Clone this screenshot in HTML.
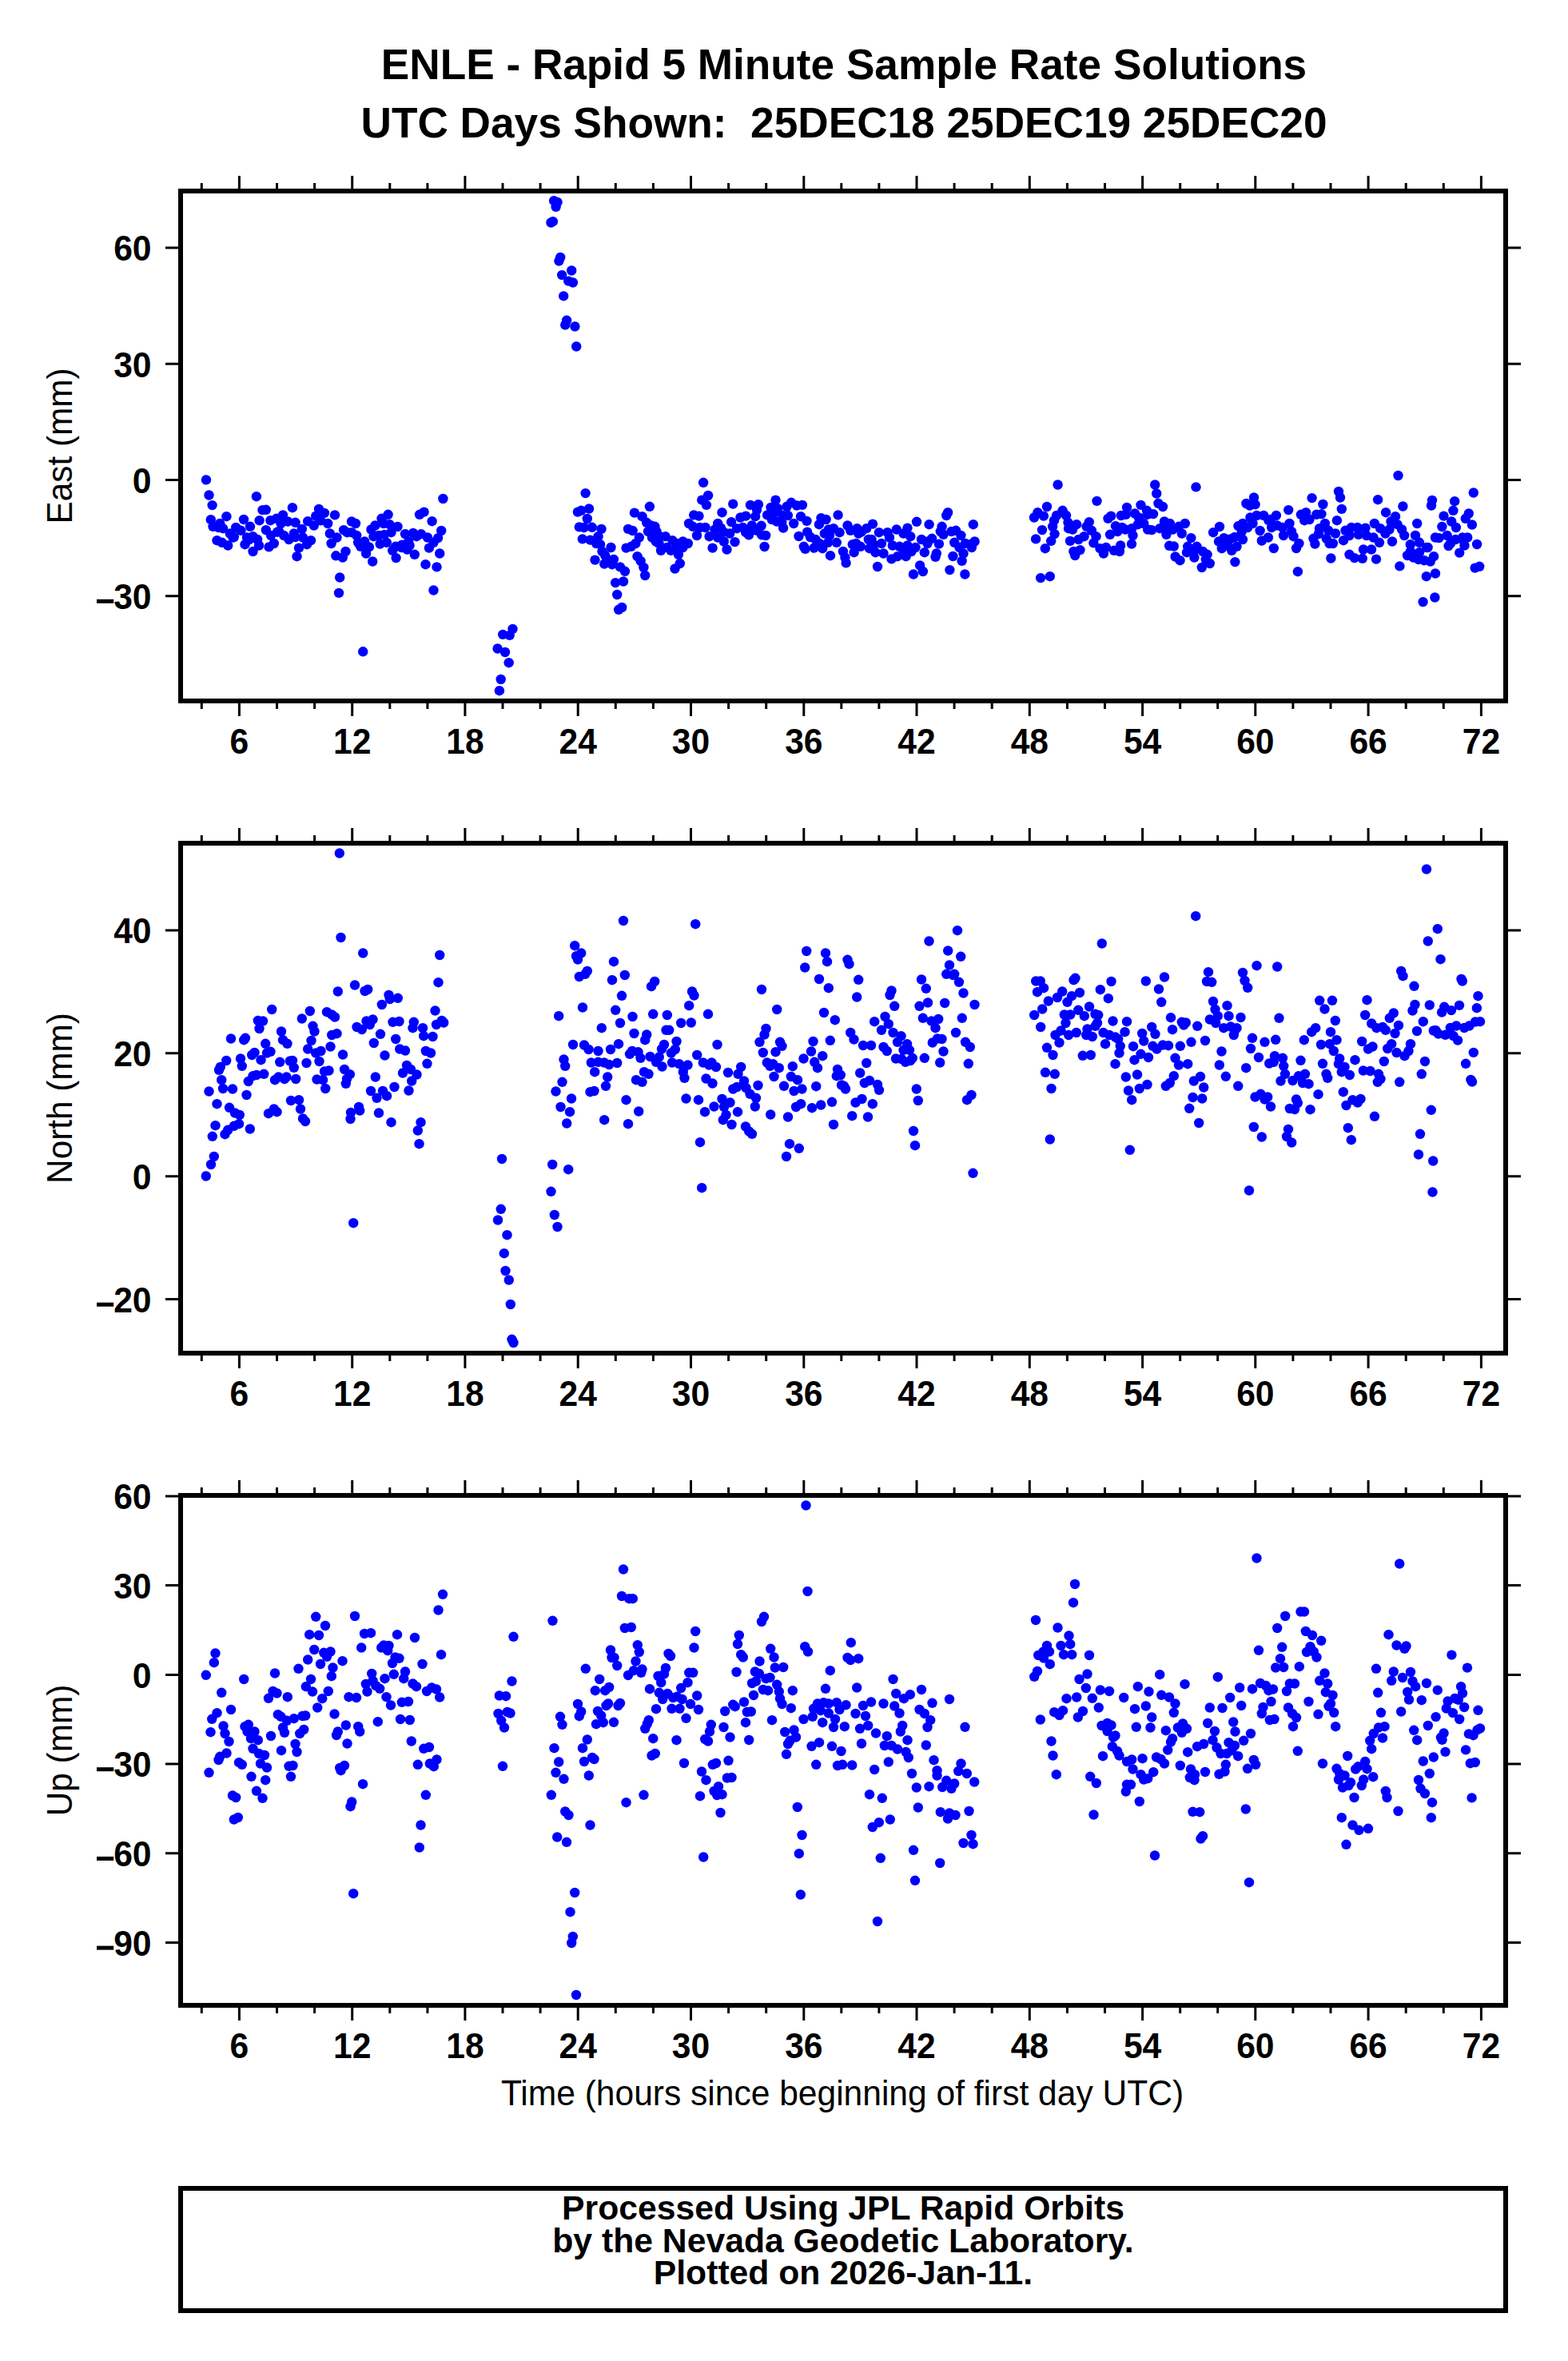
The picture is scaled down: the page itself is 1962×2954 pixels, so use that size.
<!DOCTYPE html><html><head><meta charset="utf-8"><style>html,body{margin:0;padding:0;background:#fff;}svg{display:block;}text{font-family:"Liberation Sans",sans-serif;}</style></head><body>
<svg width="1962" height="2954" viewBox="0 0 1962 2954">
<rect width="1962" height="2954" fill="#fff"/>
<text x="1056" y="99" font-size="53.2" font-weight="bold" text-anchor="middle">ENLE - Rapid 5 Minute Sample Rate Solutions</text>
<text x="1056" y="172" font-size="53.2" font-weight="bold" text-anchor="middle" xml:space="preserve">UTC Days Shown:  25DEC18 25DEC19 25DEC20</text>
<g fill="#0000ff">
<circle cx="1765.0" cy="690.0" r="6.2"/>
<circle cx="1785.0" cy="685.0" r="6.2"/>
<circle cx="1775.0" cy="700.0" r="6.2"/>
<circle cx="1792.0" cy="626.0" r="6.2"/>
<circle cx="1530.0" cy="680.0" r="6.2"/>
<circle cx="1545.0" cy="672.0" r="6.2"/>
<circle cx="1650.0" cy="668.0" r="6.2"/>
<circle cx="1590.0" cy="650.0" r="6.2"/>
<circle cx="1830.0" cy="675.0" r="6.2"/>
<circle cx="1815.0" cy="680.0" r="6.2"/>
<circle cx="292.8" cy="672.0" r="6.2"/>
<circle cx="311.9" cy="675.2" r="6.2"/>
<circle cx="273.6" cy="659.3" r="6.2"/>
<circle cx="347.0" cy="665.7" r="6.2"/>
<circle cx="369.3" cy="672.0" r="6.2"/>
<circle cx="401.2" cy="651.3" r="6.2"/>
<circle cx="420.3" cy="695.3" r="6.2"/>
<circle cx="480.9" cy="668.9" r="6.2"/>
<circle cx="503.2" cy="681.6" r="6.2"/>
<circle cx="1077.7" cy="665.7" r="6.2"/>
<circle cx="1093.6" cy="681.6" r="6.2"/>
<circle cx="1013.9" cy="672.0" r="6.2"/>
<circle cx="905.5" cy="665.7" r="6.2"/>
<circle cx="940.6" cy="662.5" r="6.2"/>
<circle cx="258.0" cy="600.4" r="6.2"/>
<circle cx="261.5" cy="619.5" r="6.2"/>
<circle cx="265.6" cy="632.1" r="6.2"/>
<circle cx="263.8" cy="650.2" r="6.2"/>
<circle cx="283.4" cy="646.2" r="6.2"/>
<circle cx="320.9" cy="621.2" r="6.2"/>
<circle cx="328.4" cy="638.1" r="6.2"/>
<circle cx="332.8" cy="637.8" r="6.2"/>
<circle cx="305.0" cy="650.0" r="6.2"/>
<circle cx="313.0" cy="658.8" r="6.2"/>
<circle cx="324.6" cy="651.2" r="6.2"/>
<circle cx="365.9" cy="635.2" r="6.2"/>
<circle cx="399.0" cy="636.9" r="6.2"/>
<circle cx="419.0" cy="644.4" r="6.2"/>
<circle cx="405.9" cy="641.9" r="6.2"/>
<circle cx="395.2" cy="645.6" r="6.2"/>
<circle cx="385.2" cy="652.2" r="6.2"/>
<circle cx="392.8" cy="657.5" r="6.2"/>
<circle cx="410.2" cy="655.0" r="6.2"/>
<circle cx="338.4" cy="651.2" r="6.2"/>
<circle cx="345.9" cy="648.8" r="6.2"/>
<circle cx="354.0" cy="644.4" r="6.2"/>
<circle cx="360.2" cy="652.5" r="6.2"/>
<circle cx="369.6" cy="653.8" r="6.2"/>
<circle cx="377.8" cy="661.9" r="6.2"/>
<circle cx="412.8" cy="667.5" r="6.2"/>
<circle cx="421.5" cy="672.5" r="6.2"/>
<circle cx="414.6" cy="680.0" r="6.2"/>
<circle cx="425.2" cy="722.5" r="6.2"/>
<circle cx="424.0" cy="741.9" r="6.2"/>
<circle cx="266.5" cy="658.8" r="6.2"/>
<circle cx="273.4" cy="660.0" r="6.2"/>
<circle cx="279.0" cy="661.2" r="6.2"/>
<circle cx="275.2" cy="655.0" r="6.2"/>
<circle cx="271.5" cy="676.2" r="6.2"/>
<circle cx="277.8" cy="678.8" r="6.2"/>
<circle cx="285.2" cy="682.5" r="6.2"/>
<circle cx="287.8" cy="667.5" r="6.2"/>
<circle cx="295.2" cy="660.0" r="6.2"/>
<circle cx="301.5" cy="663.8" r="6.2"/>
<circle cx="291.5" cy="672.5" r="6.2"/>
<circle cx="306.5" cy="681.2" r="6.2"/>
<circle cx="309.0" cy="672.5" r="6.2"/>
<circle cx="316.5" cy="671.2" r="6.2"/>
<circle cx="322.1" cy="675.0" r="6.2"/>
<circle cx="324.0" cy="682.5" r="6.2"/>
<circle cx="316.5" cy="690.0" r="6.2"/>
<circle cx="332.8" cy="663.1" r="6.2"/>
<circle cx="339.0" cy="670.0" r="6.2"/>
<circle cx="342.8" cy="680.0" r="6.2"/>
<circle cx="336.5" cy="684.4" r="6.2"/>
<circle cx="351.5" cy="655.0" r="6.2"/>
<circle cx="349.0" cy="665.0" r="6.2"/>
<circle cx="355.2" cy="670.0" r="6.2"/>
<circle cx="361.5" cy="675.0" r="6.2"/>
<circle cx="367.8" cy="667.5" r="6.2"/>
<circle cx="374.0" cy="685.6" r="6.2"/>
<circle cx="371.5" cy="696.2" r="6.2"/>
<circle cx="384.0" cy="681.2" r="6.2"/>
<circle cx="389.0" cy="676.2" r="6.2"/>
<circle cx="379.0" cy="672.5" r="6.2"/>
<circle cx="693.1" cy="251.2" r="6.2"/>
<circle cx="697.5" cy="252.9" r="6.2"/>
<circle cx="695.6" cy="258.8" r="6.2"/>
<circle cx="689.4" cy="278.5" r="6.2"/>
<circle cx="691.9" cy="277.2" r="6.2"/>
<circle cx="701.2" cy="322.0" r="6.2"/>
<circle cx="699.4" cy="326.6" r="6.2"/>
<circle cx="715.2" cy="338.5" r="6.2"/>
<circle cx="703.1" cy="344.1" r="6.2"/>
<circle cx="711.2" cy="351.6" r="6.2"/>
<circle cx="716.9" cy="353.5" r="6.2"/>
<circle cx="705.2" cy="370.4" r="6.2"/>
<circle cx="709.1" cy="400.8" r="6.2"/>
<circle cx="707.2" cy="406.6" r="6.2"/>
<circle cx="719.4" cy="408.5" r="6.2"/>
<circle cx="721.2" cy="433.5" r="6.2"/>
<circle cx="454.2" cy="815.3" r="6.2"/>
<circle cx="641.5" cy="786.9" r="6.2"/>
<circle cx="629.2" cy="793.9" r="6.2"/>
<circle cx="637.7" cy="794.9" r="6.2"/>
<circle cx="622.6" cy="811.5" r="6.2"/>
<circle cx="632.0" cy="816.0" r="6.2"/>
<circle cx="636.7" cy="829.2" r="6.2"/>
<circle cx="626.7" cy="850.0" r="6.2"/>
<circle cx="624.9" cy="864.2" r="6.2"/>
<circle cx="554.4" cy="624.0" r="6.2"/>
<circle cx="525.0" cy="643.8" r="6.2"/>
<circle cx="530.6" cy="640.6" r="6.2"/>
<circle cx="540.6" cy="652.2" r="6.2"/>
<circle cx="552.2" cy="664.0" r="6.2"/>
<circle cx="548.1" cy="673.1" r="6.2"/>
<circle cx="550.2" cy="692.5" r="6.2"/>
<circle cx="532.5" cy="706.2" r="6.2"/>
<circle cx="546.5" cy="709.4" r="6.2"/>
<circle cx="542.5" cy="738.5" r="6.2"/>
<circle cx="536.9" cy="685.6" r="6.2"/>
<circle cx="542.5" cy="678.8" r="6.2"/>
<circle cx="535.0" cy="672.5" r="6.2"/>
<circle cx="526.9" cy="668.1" r="6.2"/>
<circle cx="521.2" cy="671.2" r="6.2"/>
<circle cx="516.9" cy="666.9" r="6.2"/>
<circle cx="506.9" cy="668.1" r="6.2"/>
<circle cx="511.2" cy="677.5" r="6.2"/>
<circle cx="512.5" cy="682.5" r="6.2"/>
<circle cx="509.4" cy="687.5" r="6.2"/>
<circle cx="502.5" cy="685.0" r="6.2"/>
<circle cx="495.0" cy="683.8" r="6.2"/>
<circle cx="491.2" cy="688.8" r="6.2"/>
<circle cx="495.6" cy="698.1" r="6.2"/>
<circle cx="518.8" cy="693.8" r="6.2"/>
<circle cx="483.8" cy="678.8" r="6.2"/>
<circle cx="475.6" cy="680.6" r="6.2"/>
<circle cx="467.5" cy="671.2" r="6.2"/>
<circle cx="473.8" cy="670.0" r="6.2"/>
<circle cx="464.4" cy="662.5" r="6.2"/>
<circle cx="469.4" cy="657.5" r="6.2"/>
<circle cx="477.5" cy="648.8" r="6.2"/>
<circle cx="485.6" cy="643.8" r="6.2"/>
<circle cx="487.5" cy="656.2" r="6.2"/>
<circle cx="497.5" cy="659.0" r="6.2"/>
<circle cx="489.4" cy="666.2" r="6.2"/>
<circle cx="480.0" cy="655.0" r="6.2"/>
<circle cx="466.2" cy="702.5" r="6.2"/>
<circle cx="458.1" cy="692.5" r="6.2"/>
<circle cx="461.9" cy="684.4" r="6.2"/>
<circle cx="456.2" cy="677.5" r="6.2"/>
<circle cx="448.1" cy="678.8" r="6.2"/>
<circle cx="451.2" cy="683.8" r="6.2"/>
<circle cx="446.2" cy="670.0" r="6.2"/>
<circle cx="440.0" cy="666.2" r="6.2"/>
<circle cx="434.4" cy="666.2" r="6.2"/>
<circle cx="430.0" cy="663.1" r="6.2"/>
<circle cx="440.0" cy="652.5" r="6.2"/>
<circle cx="445.0" cy="655.0" r="6.2"/>
<circle cx="432.5" cy="690.0" r="6.2"/>
<circle cx="428.8" cy="697.5" r="6.2"/>
<circle cx="732.6" cy="617.1" r="6.2"/>
<circle cx="722.9" cy="640.6" r="6.2"/>
<circle cx="727.2" cy="638.8" r="6.2"/>
<circle cx="737.0" cy="636.5" r="6.2"/>
<circle cx="734.8" cy="649.0" r="6.2"/>
<circle cx="724.8" cy="659.4" r="6.2"/>
<circle cx="730.8" cy="660.0" r="6.2"/>
<circle cx="740.8" cy="659.8" r="6.2"/>
<circle cx="752.5" cy="661.9" r="6.2"/>
<circle cx="748.5" cy="671.2" r="6.2"/>
<circle cx="728.8" cy="674.4" r="6.2"/>
<circle cx="738.5" cy="675.6" r="6.2"/>
<circle cx="746.0" cy="680.0" r="6.2"/>
<circle cx="751.0" cy="681.2" r="6.2"/>
<circle cx="764.5" cy="685.0" r="6.2"/>
<circle cx="753.5" cy="690.0" r="6.2"/>
<circle cx="757.2" cy="695.0" r="6.2"/>
<circle cx="759.8" cy="700.0" r="6.2"/>
<circle cx="767.9" cy="700.0" r="6.2"/>
<circle cx="766.0" cy="706.2" r="6.2"/>
<circle cx="744.5" cy="700.6" r="6.2"/>
<circle cx="756.2" cy="705.6" r="6.2"/>
<circle cx="776.0" cy="709.4" r="6.2"/>
<circle cx="782.0" cy="714.8" r="6.2"/>
<circle cx="770.1" cy="729.1" r="6.2"/>
<circle cx="780.0" cy="727.5" r="6.2"/>
<circle cx="772.2" cy="744.0" r="6.2"/>
<circle cx="774.1" cy="762.8" r="6.2"/>
<circle cx="778.2" cy="760.0" r="6.2"/>
<circle cx="793.9" cy="641.6" r="6.2"/>
<circle cx="803.5" cy="646.2" r="6.2"/>
<circle cx="809.1" cy="653.8" r="6.2"/>
<circle cx="812.9" cy="633.8" r="6.2"/>
<circle cx="786.0" cy="661.9" r="6.2"/>
<circle cx="791.6" cy="664.0" r="6.2"/>
<circle cx="799.8" cy="672.5" r="6.2"/>
<circle cx="795.4" cy="680.0" r="6.2"/>
<circle cx="789.8" cy="683.8" r="6.2"/>
<circle cx="783.5" cy="685.6" r="6.2"/>
<circle cx="797.5" cy="696.2" r="6.2"/>
<circle cx="801.6" cy="701.9" r="6.2"/>
<circle cx="805.4" cy="710.0" r="6.2"/>
<circle cx="807.2" cy="720.0" r="6.2"/>
<circle cx="811.0" cy="665.0" r="6.2"/>
<circle cx="816.0" cy="672.5" r="6.2"/>
<circle cx="814.8" cy="657.5" r="6.2"/>
<circle cx="880.1" cy="603.8" r="6.2"/>
<circle cx="886.1" cy="620.0" r="6.2"/>
<circle cx="878.2" cy="625.6" r="6.2"/>
<circle cx="883.9" cy="631.9" r="6.2"/>
<circle cx="917.2" cy="630.6" r="6.2"/>
<circle cx="903.5" cy="641.2" r="6.2"/>
<circle cx="938.9" cy="631.9" r="6.2"/>
<circle cx="948.9" cy="631.2" r="6.2"/>
<circle cx="947.0" cy="638.1" r="6.2"/>
<circle cx="970.5" cy="625.6" r="6.2"/>
<circle cx="990.1" cy="628.8" r="6.2"/>
<circle cx="1003.9" cy="631.9" r="6.2"/>
<circle cx="997.0" cy="632.5" r="6.2"/>
<circle cx="964.5" cy="635.0" r="6.2"/>
<circle cx="973.2" cy="636.2" r="6.2"/>
<circle cx="984.5" cy="633.8" r="6.2"/>
<circle cx="960.1" cy="644.4" r="6.2"/>
<circle cx="965.8" cy="650.0" r="6.2"/>
<circle cx="979.5" cy="645.0" r="6.2"/>
<circle cx="978.2" cy="653.8" r="6.2"/>
<circle cx="980.1" cy="660.6" r="6.2"/>
<circle cx="993.2" cy="655.0" r="6.2"/>
<circle cx="1002.0" cy="646.2" r="6.2"/>
<circle cx="1009.5" cy="651.9" r="6.2"/>
<circle cx="945.1" cy="646.2" r="6.2"/>
<circle cx="933.2" cy="645.6" r="6.2"/>
<circle cx="926.4" cy="647.5" r="6.2"/>
<circle cx="868.2" cy="644.4" r="6.2"/>
<circle cx="874.5" cy="645.6" r="6.2"/>
<circle cx="862.0" cy="655.0" r="6.2"/>
<circle cx="867.0" cy="658.8" r="6.2"/>
<circle cx="875.8" cy="660.0" r="6.2"/>
<circle cx="882.6" cy="660.0" r="6.2"/>
<circle cx="898.2" cy="655.0" r="6.2"/>
<circle cx="902.0" cy="660.6" r="6.2"/>
<circle cx="894.5" cy="662.5" r="6.2"/>
<circle cx="872.0" cy="670.0" r="6.2"/>
<circle cx="887.6" cy="671.2" r="6.2"/>
<circle cx="898.2" cy="672.5" r="6.2"/>
<circle cx="905.8" cy="677.5" r="6.2"/>
<circle cx="913.2" cy="667.5" r="6.2"/>
<circle cx="919.5" cy="678.1" r="6.2"/>
<circle cx="909.5" cy="687.5" r="6.2"/>
<circle cx="891.6" cy="685.6" r="6.2"/>
<circle cx="915.1" cy="653.1" r="6.2"/>
<circle cx="922.0" cy="661.2" r="6.2"/>
<circle cx="929.5" cy="660.0" r="6.2"/>
<circle cx="940.8" cy="657.5" r="6.2"/>
<circle cx="937.0" cy="669.4" r="6.2"/>
<circle cx="952.6" cy="657.8" r="6.2"/>
<circle cx="958.2" cy="670.0" r="6.2"/>
<circle cx="953.2" cy="669.4" r="6.2"/>
<circle cx="956.6" cy="684.0" r="6.2"/>
<circle cx="999.5" cy="671.0" r="6.2"/>
<circle cx="1010.1" cy="665.6" r="6.2"/>
<circle cx="1005.8" cy="683.8" r="6.2"/>
<circle cx="1007.6" cy="686.9" r="6.2"/>
<circle cx="819.5" cy="658.8" r="6.2"/>
<circle cx="821.4" cy="665.0" r="6.2"/>
<circle cx="820.8" cy="677.5" r="6.2"/>
<circle cx="827.0" cy="688.8" r="6.2"/>
<circle cx="832.6" cy="671.2" r="6.2"/>
<circle cx="834.5" cy="685.0" r="6.2"/>
<circle cx="839.5" cy="688.8" r="6.2"/>
<circle cx="841.4" cy="676.2" r="6.2"/>
<circle cx="847.0" cy="680.0" r="6.2"/>
<circle cx="854.5" cy="677.5" r="6.2"/>
<circle cx="860.8" cy="680.0" r="6.2"/>
<circle cx="854.5" cy="685.0" r="6.2"/>
<circle cx="848.9" cy="693.8" r="6.2"/>
<circle cx="850.8" cy="705.0" r="6.2"/>
<circle cx="844.5" cy="711.5" r="6.2"/>
<circle cx="824.5" cy="680.0" r="6.2"/>
<circle cx="969.5" cy="641.2" r="6.2"/>
<circle cx="985.8" cy="645.0" r="6.2"/>
<circle cx="972.0" cy="652.5" r="6.2"/>
<circle cx="947.0" cy="663.8" r="6.2"/>
<circle cx="933.2" cy="666.2" r="6.2"/>
<circle cx="825.8" cy="671.2" r="6.2"/>
<circle cx="845.8" cy="686.2" r="6.2"/>
<circle cx="1048.6" cy="644.4" r="6.2"/>
<circle cx="1027.4" cy="648.1" r="6.2"/>
<circle cx="1033.6" cy="650.0" r="6.2"/>
<circle cx="1024.9" cy="656.2" r="6.2"/>
<circle cx="1036.8" cy="662.5" r="6.2"/>
<circle cx="1043.0" cy="661.2" r="6.2"/>
<circle cx="1050.5" cy="666.2" r="6.2"/>
<circle cx="1031.8" cy="667.5" r="6.2"/>
<circle cx="1038.0" cy="670.0" r="6.2"/>
<circle cx="1020.5" cy="675.0" r="6.2"/>
<circle cx="1018.6" cy="685.6" r="6.2"/>
<circle cx="1029.2" cy="686.2" r="6.2"/>
<circle cx="1036.1" cy="678.8" r="6.2"/>
<circle cx="1046.8" cy="678.8" r="6.2"/>
<circle cx="1039.0" cy="695.2" r="6.2"/>
<circle cx="1054.9" cy="690.0" r="6.2"/>
<circle cx="1057.4" cy="697.5" r="6.2"/>
<circle cx="1058.6" cy="704.4" r="6.2"/>
<circle cx="1060.5" cy="657.5" r="6.2"/>
<circle cx="1064.2" cy="663.8" r="6.2"/>
<circle cx="1072.4" cy="661.2" r="6.2"/>
<circle cx="1074.2" cy="667.5" r="6.2"/>
<circle cx="1084.2" cy="661.2" r="6.2"/>
<circle cx="1092.0" cy="655.6" r="6.2"/>
<circle cx="1066.8" cy="681.2" r="6.2"/>
<circle cx="1071.1" cy="680.0" r="6.2"/>
<circle cx="1076.8" cy="683.8" r="6.2"/>
<circle cx="1068.6" cy="691.2" r="6.2"/>
<circle cx="1086.8" cy="675.0" r="6.2"/>
<circle cx="1088.0" cy="686.2" r="6.2"/>
<circle cx="1095.5" cy="691.2" r="6.2"/>
<circle cx="1105.5" cy="692.5" r="6.2"/>
<circle cx="1099.9" cy="666.2" r="6.2"/>
<circle cx="1103.0" cy="680.0" r="6.2"/>
<circle cx="1110.5" cy="666.2" r="6.2"/>
<circle cx="1113.0" cy="672.5" r="6.2"/>
<circle cx="1098.0" cy="709.0" r="6.2"/>
<circle cx="1121.8" cy="662.5" r="6.2"/>
<circle cx="1135.5" cy="660.6" r="6.2"/>
<circle cx="1130.5" cy="667.5" r="6.2"/>
<circle cx="1139.2" cy="671.2" r="6.2"/>
<circle cx="1116.8" cy="682.5" r="6.2"/>
<circle cx="1125.5" cy="683.8" r="6.2"/>
<circle cx="1130.5" cy="687.5" r="6.2"/>
<circle cx="1115.5" cy="699.4" r="6.2"/>
<circle cx="1123.0" cy="696.2" r="6.2"/>
<circle cx="1133.6" cy="696.2" r="6.2"/>
<circle cx="1140.5" cy="690.0" r="6.2"/>
<circle cx="1145.5" cy="685.0" r="6.2"/>
<circle cx="1153.0" cy="675.0" r="6.2"/>
<circle cx="1147.0" cy="652.8" r="6.2"/>
<circle cx="1162.6" cy="656.2" r="6.2"/>
<circle cx="1184.2" cy="645.0" r="6.2"/>
<circle cx="1186.1" cy="641.2" r="6.2"/>
<circle cx="1178.6" cy="658.8" r="6.2"/>
<circle cx="1176.8" cy="665.0" r="6.2"/>
<circle cx="1180.5" cy="668.8" r="6.2"/>
<circle cx="1190.5" cy="665.0" r="6.2"/>
<circle cx="1196.1" cy="663.8" r="6.2"/>
<circle cx="1202.4" cy="670.0" r="6.2"/>
<circle cx="1166.1" cy="673.8" r="6.2"/>
<circle cx="1174.9" cy="680.6" r="6.2"/>
<circle cx="1156.8" cy="691.2" r="6.2"/>
<circle cx="1171.8" cy="692.5" r="6.2"/>
<circle cx="1170.5" cy="696.9" r="6.2"/>
<circle cx="1160.5" cy="680.0" r="6.2"/>
<circle cx="1151.1" cy="707.5" r="6.2"/>
<circle cx="1154.9" cy="715.0" r="6.2"/>
<circle cx="1143.0" cy="718.5" r="6.2"/>
<circle cx="1192.4" cy="696.0" r="6.2"/>
<circle cx="1188.4" cy="713.1" r="6.2"/>
<circle cx="1194.2" cy="678.8" r="6.2"/>
<circle cx="1200.5" cy="685.0" r="6.2"/>
<circle cx="1205.5" cy="692.5" r="6.2"/>
<circle cx="1203.6" cy="701.9" r="6.2"/>
<circle cx="1207.4" cy="718.5" r="6.2"/>
<circle cx="1208.0" cy="680.0" r="6.2"/>
<circle cx="1025.5" cy="680.0" r="6.2"/>
<circle cx="1160.5" cy="677.5" r="6.2"/>
<circle cx="1135.5" cy="682.5" r="6.2"/>
<circle cx="1090.5" cy="675.0" r="6.2"/>
<circle cx="1217.8" cy="656.2" r="6.2"/>
<circle cx="1219.6" cy="677.5" r="6.2"/>
<circle cx="1214.0" cy="681.2" r="6.2"/>
<circle cx="1215.9" cy="685.0" r="6.2"/>
<circle cx="1323.6" cy="606.5" r="6.2"/>
<circle cx="1372.5" cy="626.9" r="6.2"/>
<circle cx="1310.0" cy="634.0" r="6.2"/>
<circle cx="1298.4" cy="641.2" r="6.2"/>
<circle cx="1294.0" cy="647.5" r="6.2"/>
<circle cx="1305.9" cy="645.6" r="6.2"/>
<circle cx="1304.0" cy="663.1" r="6.2"/>
<circle cx="1296.1" cy="674.4" r="6.2"/>
<circle cx="1329.6" cy="638.8" r="6.2"/>
<circle cx="1322.1" cy="645.0" r="6.2"/>
<circle cx="1334.0" cy="645.0" r="6.2"/>
<circle cx="1319.0" cy="651.2" r="6.2"/>
<circle cx="1317.1" cy="658.8" r="6.2"/>
<circle cx="1336.5" cy="653.8" r="6.2"/>
<circle cx="1337.1" cy="661.2" r="6.2"/>
<circle cx="1342.1" cy="662.5" r="6.2"/>
<circle cx="1347.1" cy="656.2" r="6.2"/>
<circle cx="1319.6" cy="668.1" r="6.2"/>
<circle cx="1315.2" cy="676.9" r="6.2"/>
<circle cx="1307.8" cy="686.2" r="6.2"/>
<circle cx="1339.0" cy="676.9" r="6.2"/>
<circle cx="1349.6" cy="675.0" r="6.2"/>
<circle cx="1356.5" cy="671.2" r="6.2"/>
<circle cx="1362.8" cy="653.1" r="6.2"/>
<circle cx="1359.6" cy="658.8" r="6.2"/>
<circle cx="1365.9" cy="663.8" r="6.2"/>
<circle cx="1371.5" cy="671.2" r="6.2"/>
<circle cx="1343.4" cy="690.0" r="6.2"/>
<circle cx="1351.5" cy="688.1" r="6.2"/>
<circle cx="1345.2" cy="695.0" r="6.2"/>
<circle cx="1368.4" cy="679.4" r="6.2"/>
<circle cx="1376.5" cy="686.2" r="6.2"/>
<circle cx="1380.9" cy="692.5" r="6.2"/>
<circle cx="1384.0" cy="685.0" r="6.2"/>
<circle cx="1394.0" cy="688.8" r="6.2"/>
<circle cx="1400.9" cy="690.0" r="6.2"/>
<circle cx="1402.1" cy="682.5" r="6.2"/>
<circle cx="1390.2" cy="645.6" r="6.2"/>
<circle cx="1386.5" cy="648.8" r="6.2"/>
<circle cx="1395.9" cy="658.1" r="6.2"/>
<circle cx="1389.0" cy="668.8" r="6.2"/>
<circle cx="1398.4" cy="665.0" r="6.2"/>
<circle cx="1402.8" cy="645.0" r="6.2"/>
<circle cx="1404.0" cy="660.0" r="6.2"/>
<circle cx="1302.1" cy="723.1" r="6.2"/>
<circle cx="1313.8" cy="721.2" r="6.2"/>
<circle cx="1445.2" cy="606.5" r="6.2"/>
<circle cx="1447.2" cy="617.5" r="6.2"/>
<circle cx="1449.4" cy="629.8" r="6.2"/>
<circle cx="1455.0" cy="634.0" r="6.2"/>
<circle cx="1496.5" cy="609.4" r="6.2"/>
<circle cx="1410.0" cy="635.0" r="6.2"/>
<circle cx="1408.8" cy="643.8" r="6.2"/>
<circle cx="1427.5" cy="631.9" r="6.2"/>
<circle cx="1435.0" cy="638.8" r="6.2"/>
<circle cx="1443.1" cy="643.1" r="6.2"/>
<circle cx="1435.6" cy="643.8" r="6.2"/>
<circle cx="1420.0" cy="642.5" r="6.2"/>
<circle cx="1425.0" cy="647.5" r="6.2"/>
<circle cx="1431.2" cy="655.0" r="6.2"/>
<circle cx="1423.8" cy="656.2" r="6.2"/>
<circle cx="1416.2" cy="661.2" r="6.2"/>
<circle cx="1408.1" cy="662.5" r="6.2"/>
<circle cx="1417.5" cy="670.0" r="6.2"/>
<circle cx="1441.2" cy="663.1" r="6.2"/>
<circle cx="1436.2" cy="662.5" r="6.2"/>
<circle cx="1416.0" cy="680.6" r="6.2"/>
<circle cx="1456.9" cy="652.5" r="6.2"/>
<circle cx="1463.8" cy="655.0" r="6.2"/>
<circle cx="1458.8" cy="661.2" r="6.2"/>
<circle cx="1451.2" cy="661.2" r="6.2"/>
<circle cx="1459.4" cy="668.8" r="6.2"/>
<circle cx="1467.5" cy="662.5" r="6.2"/>
<circle cx="1475.0" cy="658.8" r="6.2"/>
<circle cx="1482.8" cy="655.0" r="6.2"/>
<circle cx="1478.8" cy="667.5" r="6.2"/>
<circle cx="1463.1" cy="682.8" r="6.2"/>
<circle cx="1468.8" cy="683.5" r="6.2"/>
<circle cx="1470.6" cy="696.5" r="6.2"/>
<circle cx="1476.5" cy="701.2" r="6.2"/>
<circle cx="1490.4" cy="673.1" r="6.2"/>
<circle cx="1486.2" cy="683.8" r="6.2"/>
<circle cx="1497.5" cy="683.8" r="6.2"/>
<circle cx="1485.0" cy="691.2" r="6.2"/>
<circle cx="1493.8" cy="690.0" r="6.2"/>
<circle cx="1494.4" cy="697.5" r="6.2"/>
<circle cx="1505.0" cy="690.0" r="6.2"/>
<circle cx="1510.6" cy="693.8" r="6.2"/>
<circle cx="1513.8" cy="705.0" r="6.2"/>
<circle cx="1503.8" cy="710.0" r="6.2"/>
<circle cx="1508.8" cy="700.0" r="6.2"/>
<circle cx="1526.0" cy="659.0" r="6.2"/>
<circle cx="1518.1" cy="666.2" r="6.2"/>
<circle cx="1531.5" cy="673.1" r="6.2"/>
<circle cx="1539.4" cy="674.4" r="6.2"/>
<circle cx="1525.0" cy="677.5" r="6.2"/>
<circle cx="1528.8" cy="686.2" r="6.2"/>
<circle cx="1536.2" cy="682.5" r="6.2"/>
<circle cx="1541.2" cy="688.8" r="6.2"/>
<circle cx="1547.5" cy="683.8" r="6.2"/>
<circle cx="1555.0" cy="675.0" r="6.2"/>
<circle cx="1545.4" cy="703.1" r="6.2"/>
<circle cx="1569.0" cy="622.5" r="6.2"/>
<circle cx="1559.4" cy="630.0" r="6.2"/>
<circle cx="1570.6" cy="631.2" r="6.2"/>
<circle cx="1563.8" cy="632.5" r="6.2"/>
<circle cx="1549.4" cy="658.1" r="6.2"/>
<circle cx="1555.0" cy="655.0" r="6.2"/>
<circle cx="1564.4" cy="647.5" r="6.2"/>
<circle cx="1567.5" cy="655.0" r="6.2"/>
<circle cx="1553.8" cy="665.0" r="6.2"/>
<circle cx="1561.2" cy="660.0" r="6.2"/>
<circle cx="1572.5" cy="645.0" r="6.2"/>
<circle cx="1581.2" cy="645.0" r="6.2"/>
<circle cx="1587.5" cy="651.2" r="6.2"/>
<circle cx="1596.9" cy="645.0" r="6.2"/>
<circle cx="1591.2" cy="660.0" r="6.2"/>
<circle cx="1598.1" cy="657.5" r="6.2"/>
<circle cx="1576.6" cy="664.0" r="6.2"/>
<circle cx="1586.9" cy="672.5" r="6.2"/>
<circle cx="1578.8" cy="676.5" r="6.2"/>
<circle cx="1593.8" cy="686.0" r="6.2"/>
<circle cx="1749.5" cy="595.0" r="6.2"/>
<circle cx="1675.0" cy="615.0" r="6.2"/>
<circle cx="1677.0" cy="622.5" r="6.2"/>
<circle cx="1641.6" cy="623.1" r="6.2"/>
<circle cx="1655.4" cy="631.0" r="6.2"/>
<circle cx="1678.8" cy="636.9" r="6.2"/>
<circle cx="1612.2" cy="638.1" r="6.2"/>
<circle cx="1724.1" cy="625.2" r="6.2"/>
<circle cx="1755.4" cy="633.5" r="6.2"/>
<circle cx="1791.0" cy="632.5" r="6.2"/>
<circle cx="1627.9" cy="643.8" r="6.2"/>
<circle cx="1634.1" cy="641.2" r="6.2"/>
<circle cx="1638.5" cy="650.0" r="6.2"/>
<circle cx="1632.2" cy="651.2" r="6.2"/>
<circle cx="1647.2" cy="643.8" r="6.2"/>
<circle cx="1653.5" cy="643.1" r="6.2"/>
<circle cx="1672.9" cy="651.2" r="6.2"/>
<circle cx="1734.1" cy="641.2" r="6.2"/>
<circle cx="1746.0" cy="646.2" r="6.2"/>
<circle cx="1740.4" cy="652.5" r="6.2"/>
<circle cx="1748.5" cy="656.2" r="6.2"/>
<circle cx="1754.1" cy="662.5" r="6.2"/>
<circle cx="1757.2" cy="670.0" r="6.2"/>
<circle cx="1773.2" cy="655.0" r="6.2"/>
<circle cx="1651.0" cy="661.2" r="6.2"/>
<circle cx="1657.9" cy="655.0" r="6.2"/>
<circle cx="1662.2" cy="663.8" r="6.2"/>
<circle cx="1671.0" cy="667.5" r="6.2"/>
<circle cx="1659.8" cy="673.8" r="6.2"/>
<circle cx="1663.5" cy="680.0" r="6.2"/>
<circle cx="1667.9" cy="680.0" r="6.2"/>
<circle cx="1643.5" cy="673.8" r="6.2"/>
<circle cx="1645.4" cy="680.6" r="6.2"/>
<circle cx="1606.0" cy="670.0" r="6.2"/>
<circle cx="1613.5" cy="655.0" r="6.2"/>
<circle cx="1616.0" cy="665.0" r="6.2"/>
<circle cx="1618.5" cy="671.2" r="6.2"/>
<circle cx="1604.8" cy="660.0" r="6.2"/>
<circle cx="1625.4" cy="680.0" r="6.2"/>
<circle cx="1622.0" cy="686.0" r="6.2"/>
<circle cx="1665.4" cy="698.5" r="6.2"/>
<circle cx="1623.9" cy="715.2" r="6.2"/>
<circle cx="1683.5" cy="663.8" r="6.2"/>
<circle cx="1691.0" cy="660.0" r="6.2"/>
<circle cx="1698.5" cy="660.0" r="6.2"/>
<circle cx="1708.5" cy="660.6" r="6.2"/>
<circle cx="1719.8" cy="655.0" r="6.2"/>
<circle cx="1727.2" cy="661.2" r="6.2"/>
<circle cx="1681.0" cy="676.2" r="6.2"/>
<circle cx="1688.5" cy="670.0" r="6.2"/>
<circle cx="1699.8" cy="668.8" r="6.2"/>
<circle cx="1709.8" cy="670.0" r="6.2"/>
<circle cx="1718.5" cy="672.5" r="6.2"/>
<circle cx="1726.0" cy="678.8" r="6.2"/>
<circle cx="1733.5" cy="667.5" r="6.2"/>
<circle cx="1738.5" cy="662.5" r="6.2"/>
<circle cx="1742.0" cy="677.5" r="6.2"/>
<circle cx="1688.5" cy="693.8" r="6.2"/>
<circle cx="1694.8" cy="698.1" r="6.2"/>
<circle cx="1706.0" cy="687.5" r="6.2"/>
<circle cx="1716.0" cy="687.5" r="6.2"/>
<circle cx="1704.8" cy="698.8" r="6.2"/>
<circle cx="1722.0" cy="699.6" r="6.2"/>
<circle cx="1771.0" cy="670.0" r="6.2"/>
<circle cx="1776.0" cy="678.8" r="6.2"/>
<circle cx="1764.8" cy="681.2" r="6.2"/>
<circle cx="1786.6" cy="685.0" r="6.2"/>
<circle cx="1761.0" cy="695.0" r="6.2"/>
<circle cx="1768.5" cy="697.5" r="6.2"/>
<circle cx="1776.0" cy="691.2" r="6.2"/>
<circle cx="1782.2" cy="701.2" r="6.2"/>
<circle cx="1789.8" cy="702.5" r="6.2"/>
<circle cx="1794.1" cy="696.2" r="6.2"/>
<circle cx="1751.4" cy="708.4" r="6.2"/>
<circle cx="1784.8" cy="721.2" r="6.2"/>
<circle cx="1796.0" cy="717.5" r="6.2"/>
<circle cx="1780.6" cy="753.1" r="6.2"/>
<circle cx="1795.4" cy="747.5" r="6.2"/>
<circle cx="1796.0" cy="672.5" r="6.2"/>
<circle cx="1843.8" cy="616.5" r="6.2"/>
<circle cx="1820.2" cy="627.2" r="6.2"/>
<circle cx="1818.4" cy="638.8" r="6.2"/>
<circle cx="1806.5" cy="645.6" r="6.2"/>
<circle cx="1816.2" cy="652.5" r="6.2"/>
<circle cx="1804.4" cy="659.0" r="6.2"/>
<circle cx="1821.9" cy="660.0" r="6.2"/>
<circle cx="1837.8" cy="642.5" r="6.2"/>
<circle cx="1833.8" cy="648.8" r="6.2"/>
<circle cx="1841.9" cy="656.5" r="6.2"/>
<circle cx="1810.6" cy="670.0" r="6.2"/>
<circle cx="1800.6" cy="673.1" r="6.2"/>
<circle cx="1821.2" cy="675.0" r="6.2"/>
<circle cx="1830.0" cy="672.5" r="6.2"/>
<circle cx="1836.2" cy="672.5" r="6.2"/>
<circle cx="1812.5" cy="683.1" r="6.2"/>
<circle cx="1832.5" cy="682.5" r="6.2"/>
<circle cx="1848.1" cy="681.0" r="6.2"/>
<circle cx="1826.2" cy="691.6" r="6.2"/>
<circle cx="1845.6" cy="710.6" r="6.2"/>
<circle cx="1851.2" cy="708.8" r="6.2"/>
</g>
<rect x="226" y="239" width="1658" height="638" fill="none" stroke="#000" stroke-width="6"/>
<path d="M252.3 239V229M252.3 877V887M299.4 239V220M299.4 877V896M346.5 239V229M346.5 877V887M393.6 239V229M393.6 877V887M440.7 239V220M440.7 877V896M487.8 239V229M487.8 877V887M534.9 239V229M534.9 877V887M581.9 239V220M581.9 877V896M629.0 239V229M629.0 877V887M676.1 239V229M676.1 877V887M723.2 239V220M723.2 877V896M770.3 239V229M770.3 877V887M817.4 239V229M817.4 877V887M864.5 239V220M864.5 877V896M911.6 239V229M911.6 877V887M958.7 239V229M958.7 877V887M1005.8 239V220M1005.8 877V896M1052.8 239V229M1052.8 877V887M1099.9 239V229M1099.9 877V887M1147.0 239V220M1147.0 877V896M1194.1 239V229M1194.1 877V887M1241.2 239V229M1241.2 877V887M1288.3 239V220M1288.3 877V896M1335.4 239V229M1335.4 877V887M1382.5 239V229M1382.5 877V887M1429.6 239V220M1429.6 877V896M1476.7 239V229M1476.7 877V887M1523.7 239V229M1523.7 877V887M1570.8 239V220M1570.8 877V896M1617.9 239V229M1617.9 877V887M1665.0 239V229M1665.0 877V887M1712.1 239V220M1712.1 877V896M1759.2 239V229M1759.2 877V887M1806.3 239V229M1806.3 877V887M1853.4 239V220M1853.4 877V896M207 309.9H226M1884 309.9H1903M207 455.2H226M1884 455.2H1903M207 600.4H226M1884 600.4H1903M207 745.7H226M1884 745.7H1903" stroke="#000" stroke-width="3" fill="none"/>
<text transform="translate(299.4 942.9) scale(0.94 1)" font-size="45.3" font-weight="bold" text-anchor="middle">6</text>
<text transform="translate(440.7 942.9) scale(0.94 1)" font-size="45.3" font-weight="bold" text-anchor="middle">12</text>
<text transform="translate(581.9 942.9) scale(0.94 1)" font-size="45.3" font-weight="bold" text-anchor="middle">18</text>
<text transform="translate(723.2 942.9) scale(0.94 1)" font-size="45.3" font-weight="bold" text-anchor="middle">24</text>
<text transform="translate(864.5 942.9) scale(0.94 1)" font-size="45.3" font-weight="bold" text-anchor="middle">30</text>
<text transform="translate(1005.8 942.9) scale(0.94 1)" font-size="45.3" font-weight="bold" text-anchor="middle">36</text>
<text transform="translate(1147.0 942.9) scale(0.94 1)" font-size="45.3" font-weight="bold" text-anchor="middle">42</text>
<text transform="translate(1288.3 942.9) scale(0.94 1)" font-size="45.3" font-weight="bold" text-anchor="middle">48</text>
<text transform="translate(1429.6 942.9) scale(0.94 1)" font-size="45.3" font-weight="bold" text-anchor="middle">54</text>
<text transform="translate(1570.8 942.9) scale(0.94 1)" font-size="45.3" font-weight="bold" text-anchor="middle">60</text>
<text transform="translate(1712.1 942.9) scale(0.94 1)" font-size="45.3" font-weight="bold" text-anchor="middle">66</text>
<text transform="translate(1853.4 942.9) scale(0.94 1)" font-size="45.3" font-weight="bold" text-anchor="middle">72</text>
<text transform="translate(189.5 326.2) scale(0.94 1)" font-size="45.3" font-weight="bold" text-anchor="end">60</text>
<text transform="translate(189.5 471.5) scale(0.94 1)" font-size="45.3" font-weight="bold" text-anchor="end">30</text>
<text transform="translate(189.5 616.6999999999999) scale(0.94 1)" font-size="45.3" font-weight="bold" text-anchor="end">0</text>
<text transform="translate(189.5 762.0) scale(0.94 1)" font-size="45.3" font-weight="bold" text-anchor="end">30</text>
<rect x="121.0" y="749.8" width="21.2" height="5" fill="#000"/>
<text transform="translate(89.8 558) rotate(-90) scale(0.955 1)" x="0" y="0" font-size="44.3" text-anchor="middle">East (mm)</text>
<g fill="#0000ff">
<circle cx="261.5" cy="1365.5" r="6.2"/>
<circle cx="267.8" cy="1447.0" r="6.2"/>
<circle cx="265.8" cy="1421.8" r="6.2"/>
<circle cx="269.5" cy="1408.2" r="6.2"/>
<circle cx="271.5" cy="1381.2" r="6.2"/>
<circle cx="274.0" cy="1338.8" r="6.2"/>
<circle cx="275.8" cy="1335.0" r="6.2"/>
<circle cx="277.2" cy="1351.2" r="6.2"/>
<circle cx="279.0" cy="1362.0" r="6.2"/>
<circle cx="281.5" cy="1419.2" r="6.2"/>
<circle cx="285.2" cy="1413.8" r="6.2"/>
<circle cx="283.2" cy="1327.0" r="6.2"/>
<circle cx="289.0" cy="1299.5" r="6.2"/>
<circle cx="287.0" cy="1385.8" r="6.2"/>
<circle cx="291.0" cy="1362.5" r="6.2"/>
<circle cx="292.8" cy="1408.8" r="6.2"/>
<circle cx="299.0" cy="1406.2" r="6.2"/>
<circle cx="294.0" cy="1392.5" r="6.2"/>
<circle cx="299.8" cy="1395.0" r="6.2"/>
<circle cx="301.0" cy="1324.5" r="6.2"/>
<circle cx="302.8" cy="1333.8" r="6.2"/>
<circle cx="305.2" cy="1301.2" r="6.2"/>
<circle cx="307.0" cy="1298.8" r="6.2"/>
<circle cx="308.5" cy="1370.0" r="6.2"/>
<circle cx="310.8" cy="1353.0" r="6.2"/>
<circle cx="312.8" cy="1412.5" r="6.2"/>
<circle cx="315.2" cy="1320.0" r="6.2"/>
<circle cx="318.5" cy="1317.0" r="6.2"/>
<circle cx="316.5" cy="1346.2" r="6.2"/>
<circle cx="321.0" cy="1345.0" r="6.2"/>
<circle cx="322.8" cy="1277.0" r="6.2"/>
<circle cx="329.0" cy="1277.5" r="6.2"/>
<circle cx="324.5" cy="1287.0" r="6.2"/>
<circle cx="326.5" cy="1326.2" r="6.2"/>
<circle cx="330.2" cy="1343.8" r="6.2"/>
<circle cx="332.2" cy="1305.8" r="6.2"/>
<circle cx="334.0" cy="1317.5" r="6.2"/>
<circle cx="338.5" cy="1315.8" r="6.2"/>
<circle cx="336.0" cy="1393.2" r="6.2"/>
<circle cx="342.8" cy="1387.5" r="6.2"/>
<circle cx="346.5" cy="1391.2" r="6.2"/>
<circle cx="340.2" cy="1263.0" r="6.2"/>
<circle cx="344.0" cy="1351.2" r="6.2"/>
<circle cx="348.5" cy="1347.5" r="6.2"/>
<circle cx="350.2" cy="1328.8" r="6.2"/>
<circle cx="352.0" cy="1290.5" r="6.2"/>
<circle cx="354.0" cy="1301.2" r="6.2"/>
<circle cx="359.5" cy="1305.8" r="6.2"/>
<circle cx="356.0" cy="1350.0" r="6.2"/>
<circle cx="358.5" cy="1347.5" r="6.2"/>
<circle cx="362.8" cy="1327.5" r="6.2"/>
<circle cx="366.0" cy="1327.0" r="6.2"/>
<circle cx="367.8" cy="1335.8" r="6.2"/>
<circle cx="364.0" cy="1377.0" r="6.2"/>
<circle cx="374.0" cy="1376.2" r="6.2"/>
<circle cx="376.0" cy="1387.5" r="6.2"/>
<circle cx="370.2" cy="1350.0" r="6.2"/>
<circle cx="377.8" cy="1274.5" r="6.2"/>
<circle cx="387.8" cy="1265.0" r="6.2"/>
<circle cx="379.0" cy="1399.5" r="6.2"/>
<circle cx="382.0" cy="1403.0" r="6.2"/>
<circle cx="383.5" cy="1330.0" r="6.2"/>
<circle cx="385.2" cy="1312.5" r="6.2"/>
<circle cx="389.5" cy="1302.0" r="6.2"/>
<circle cx="391.5" cy="1283.8" r="6.2"/>
<circle cx="393.5" cy="1290.5" r="6.2"/>
<circle cx="395.2" cy="1317.5" r="6.2"/>
<circle cx="401.5" cy="1315.0" r="6.2"/>
<circle cx="396.5" cy="1350.5" r="6.2"/>
<circle cx="404.0" cy="1351.2" r="6.2"/>
<circle cx="399.5" cy="1328.0" r="6.2"/>
<circle cx="406.0" cy="1340.5" r="6.2"/>
<circle cx="411.5" cy="1339.5" r="6.2"/>
<circle cx="407.2" cy="1362.0" r="6.2"/>
<circle cx="409.0" cy="1266.2" r="6.2"/>
<circle cx="419.0" cy="1272.5" r="6.2"/>
<circle cx="415.2" cy="1269.5" r="6.2"/>
<circle cx="413.5" cy="1309.5" r="6.2"/>
<circle cx="415.2" cy="1295.0" r="6.2"/>
<circle cx="421.5" cy="1293.2" r="6.2"/>
<circle cx="422.8" cy="1240.5" r="6.2"/>
<circle cx="424.8" cy="1067.5" r="6.2"/>
<circle cx="426.5" cy="1173.0" r="6.2"/>
<circle cx="429.0" cy="1319.5" r="6.2"/>
<circle cx="431.0" cy="1338.0" r="6.2"/>
<circle cx="437.8" cy="1344.2" r="6.2"/>
<circle cx="434.0" cy="1350.0" r="6.2"/>
<circle cx="432.8" cy="1355.8" r="6.2"/>
<circle cx="439.0" cy="1392.0" r="6.2"/>
<circle cx="438.5" cy="1400.0" r="6.2"/>
<circle cx="449.0" cy="1385.0" r="6.2"/>
<circle cx="450.2" cy="1389.5" r="6.2"/>
<circle cx="444.0" cy="1232.5" r="6.2"/>
<circle cx="446.5" cy="1285.0" r="6.2"/>
<circle cx="452.8" cy="1288.0" r="6.2"/>
<circle cx="454.2" cy="1192.5" r="6.2"/>
<circle cx="456.5" cy="1240.0" r="6.2"/>
<circle cx="460.2" cy="1238.0" r="6.2"/>
<circle cx="458.5" cy="1277.5" r="6.2"/>
<circle cx="462.8" cy="1282.0" r="6.2"/>
<circle cx="466.5" cy="1275.5" r="6.2"/>
<circle cx="467.8" cy="1305.0" r="6.2"/>
<circle cx="469.8" cy="1347.5" r="6.2"/>
<circle cx="464.0" cy="1365.0" r="6.2"/>
<circle cx="471.5" cy="1373.8" r="6.2"/>
<circle cx="479.0" cy="1365.0" r="6.2"/>
<circle cx="484.0" cy="1371.2" r="6.2"/>
<circle cx="474.0" cy="1392.5" r="6.2"/>
<circle cx="476.0" cy="1293.8" r="6.2"/>
<circle cx="477.8" cy="1257.0" r="6.2"/>
<circle cx="481.5" cy="1320.5" r="6.2"/>
<circle cx="486.5" cy="1245.0" r="6.2"/>
<circle cx="487.8" cy="1250.0" r="6.2"/>
<circle cx="497.8" cy="1248.8" r="6.2"/>
<circle cx="489.5" cy="1404.2" r="6.2"/>
<circle cx="491.5" cy="1278.8" r="6.2"/>
<circle cx="499.5" cy="1278.0" r="6.2"/>
<circle cx="493.5" cy="1360.0" r="6.2"/>
<circle cx="495.2" cy="1300.0" r="6.2"/>
<circle cx="500.2" cy="1312.5" r="6.2"/>
<circle cx="507.0" cy="1314.5" r="6.2"/>
<circle cx="504.0" cy="1342.5" r="6.2"/>
<circle cx="509.0" cy="1333.0" r="6.2"/>
<circle cx="514.0" cy="1338.0" r="6.2"/>
<circle cx="521.5" cy="1344.5" r="6.2"/>
<circle cx="515.2" cy="1352.5" r="6.2"/>
<circle cx="511.5" cy="1364.5" r="6.2"/>
<circle cx="517.8" cy="1278.8" r="6.2"/>
<circle cx="516.5" cy="1286.2" r="6.2"/>
<circle cx="522.8" cy="1414.5" r="6.2"/>
<circle cx="526.5" cy="1404.2" r="6.2"/>
<circle cx="524.5" cy="1431.2" r="6.2"/>
<circle cx="529.0" cy="1286.2" r="6.2"/>
<circle cx="530.2" cy="1296.2" r="6.2"/>
<circle cx="541.5" cy="1297.0" r="6.2"/>
<circle cx="532.8" cy="1315.0" r="6.2"/>
<circle cx="539.0" cy="1317.5" r="6.2"/>
<circle cx="534.5" cy="1330.8" r="6.2"/>
<circle cx="544.5" cy="1264.5" r="6.2"/>
<circle cx="546.0" cy="1282.0" r="6.2"/>
<circle cx="552.8" cy="1277.0" r="6.2"/>
<circle cx="555.2" cy="1279.5" r="6.2"/>
<circle cx="548.5" cy="1229.2" r="6.2"/>
<circle cx="550.2" cy="1195.0" r="6.2"/>
<circle cx="1563.0" cy="1489.5" r="6.2"/>
<circle cx="1792.5" cy="1491.5" r="6.2"/>
<circle cx="1793.2" cy="1452.5" r="6.2"/>
<circle cx="257.8" cy="1471.5" r="6.2"/>
<circle cx="264.0" cy="1457.0" r="6.2"/>
<circle cx="442.2" cy="1530.2" r="6.2"/>
<circle cx="628.0" cy="1450.0" r="6.2"/>
<circle cx="695.5" cy="1365.5" r="6.2"/>
<circle cx="699.2" cy="1271.2" r="6.2"/>
<circle cx="701.5" cy="1385.0" r="6.2"/>
<circle cx="703.5" cy="1353.8" r="6.2"/>
<circle cx="705.5" cy="1325.5" r="6.2"/>
<circle cx="707.2" cy="1333.8" r="6.2"/>
<circle cx="709.2" cy="1405.5" r="6.2"/>
<circle cx="713.0" cy="1391.2" r="6.2"/>
<circle cx="715.0" cy="1374.5" r="6.2"/>
<circle cx="717.0" cy="1307.0" r="6.2"/>
<circle cx="719.2" cy="1183.2" r="6.2"/>
<circle cx="721.0" cy="1196.2" r="6.2"/>
<circle cx="727.2" cy="1192.5" r="6.2"/>
<circle cx="723.0" cy="1200.5" r="6.2"/>
<circle cx="724.8" cy="1222.0" r="6.2"/>
<circle cx="732.2" cy="1218.8" r="6.2"/>
<circle cx="734.8" cy="1215.0" r="6.2"/>
<circle cx="729.0" cy="1260.5" r="6.2"/>
<circle cx="731.0" cy="1307.5" r="6.2"/>
<circle cx="736.5" cy="1313.0" r="6.2"/>
<circle cx="738.5" cy="1366.2" r="6.2"/>
<circle cx="743.5" cy="1365.0" r="6.2"/>
<circle cx="739.8" cy="1329.5" r="6.2"/>
<circle cx="748.5" cy="1328.8" r="6.2"/>
<circle cx="756.0" cy="1329.5" r="6.2"/>
<circle cx="762.2" cy="1332.0" r="6.2"/>
<circle cx="744.2" cy="1341.2" r="6.2"/>
<circle cx="748.5" cy="1315.0" r="6.2"/>
<circle cx="752.8" cy="1286.2" r="6.2"/>
<circle cx="756.2" cy="1401.2" r="6.2"/>
<circle cx="758.0" cy="1358.8" r="6.2"/>
<circle cx="760.2" cy="1347.5" r="6.2"/>
<circle cx="764.0" cy="1313.0" r="6.2"/>
<circle cx="766.0" cy="1226.2" r="6.2"/>
<circle cx="768.0" cy="1203.2" r="6.2"/>
<circle cx="770.2" cy="1263.8" r="6.2"/>
<circle cx="772.2" cy="1330.0" r="6.2"/>
<circle cx="774.0" cy="1306.2" r="6.2"/>
<circle cx="776.0" cy="1280.0" r="6.2"/>
<circle cx="778.0" cy="1245.8" r="6.2"/>
<circle cx="780.0" cy="1152.0" r="6.2"/>
<circle cx="781.8" cy="1220.0" r="6.2"/>
<circle cx="783.5" cy="1376.2" r="6.2"/>
<circle cx="786.0" cy="1406.2" r="6.2"/>
<circle cx="788.0" cy="1318.8" r="6.2"/>
<circle cx="791.0" cy="1315.0" r="6.2"/>
<circle cx="798.5" cy="1316.2" r="6.2"/>
<circle cx="801.5" cy="1323.8" r="6.2"/>
<circle cx="791.5" cy="1272.0" r="6.2"/>
<circle cx="793.5" cy="1293.0" r="6.2"/>
<circle cx="796.0" cy="1351.2" r="6.2"/>
<circle cx="803.5" cy="1353.8" r="6.2"/>
<circle cx="799.2" cy="1390.5" r="6.2"/>
<circle cx="806.0" cy="1341.2" r="6.2"/>
<circle cx="811.5" cy="1343.8" r="6.2"/>
<circle cx="807.2" cy="1301.2" r="6.2"/>
<circle cx="809.2" cy="1294.5" r="6.2"/>
<circle cx="813.5" cy="1322.0" r="6.2"/>
<circle cx="815.0" cy="1234.2" r="6.2"/>
<circle cx="819.2" cy="1228.0" r="6.2"/>
<circle cx="817.2" cy="1268.8" r="6.2"/>
<circle cx="821.0" cy="1328.8" r="6.2"/>
<circle cx="824.8" cy="1322.5" r="6.2"/>
<circle cx="828.5" cy="1334.5" r="6.2"/>
<circle cx="828.0" cy="1312.5" r="6.2"/>
<circle cx="831.0" cy="1307.0" r="6.2"/>
<circle cx="833.5" cy="1288.8" r="6.2"/>
<circle cx="837.2" cy="1288.8" r="6.2"/>
<circle cx="834.8" cy="1270.0" r="6.2"/>
<circle cx="839.8" cy="1317.5" r="6.2"/>
<circle cx="844.8" cy="1313.0" r="6.2"/>
<circle cx="846.5" cy="1303.0" r="6.2"/>
<circle cx="841.0" cy="1329.5" r="6.2"/>
<circle cx="849.8" cy="1331.2" r="6.2"/>
<circle cx="860.5" cy="1332.5" r="6.2"/>
<circle cx="852.2" cy="1280.0" r="6.2"/>
<circle cx="854.8" cy="1341.2" r="6.2"/>
<circle cx="856.5" cy="1348.8" r="6.2"/>
<circle cx="858.5" cy="1374.5" r="6.2"/>
<circle cx="862.2" cy="1258.2" r="6.2"/>
<circle cx="864.8" cy="1279.5" r="6.2"/>
<circle cx="866.0" cy="1240.5" r="6.2"/>
<circle cx="868.5" cy="1245.5" r="6.2"/>
<circle cx="870.2" cy="1156.2" r="6.2"/>
<circle cx="872.2" cy="1320.0" r="6.2"/>
<circle cx="874.0" cy="1376.2" r="6.2"/>
<circle cx="876.0" cy="1429.2" r="6.2"/>
<circle cx="879.8" cy="1329.5" r="6.2"/>
<circle cx="887.2" cy="1332.5" r="6.2"/>
<circle cx="890.5" cy="1329.5" r="6.2"/>
<circle cx="896.0" cy="1335.0" r="6.2"/>
<circle cx="882.0" cy="1391.2" r="6.2"/>
<circle cx="883.5" cy="1349.5" r="6.2"/>
<circle cx="891.5" cy="1355.5" r="6.2"/>
<circle cx="886.0" cy="1268.8" r="6.2"/>
<circle cx="893.5" cy="1384.5" r="6.2"/>
<circle cx="903.5" cy="1375.0" r="6.2"/>
<circle cx="913.5" cy="1379.5" r="6.2"/>
<circle cx="906.0" cy="1385.0" r="6.2"/>
<circle cx="908.5" cy="1395.0" r="6.2"/>
<circle cx="904.8" cy="1401.2" r="6.2"/>
<circle cx="897.5" cy="1307.0" r="6.2"/>
<circle cx="911.0" cy="1342.0" r="6.2"/>
<circle cx="927.2" cy="1335.0" r="6.2"/>
<circle cx="923.5" cy="1343.8" r="6.2"/>
<circle cx="931.0" cy="1352.5" r="6.2"/>
<circle cx="915.5" cy="1407.0" r="6.2"/>
<circle cx="917.2" cy="1362.5" r="6.2"/>
<circle cx="922.2" cy="1360.0" r="6.2"/>
<circle cx="923.0" cy="1391.2" r="6.2"/>
<circle cx="933.0" cy="1409.5" r="6.2"/>
<circle cx="937.2" cy="1415.5" r="6.2"/>
<circle cx="941.0" cy="1418.8" r="6.2"/>
<circle cx="933.5" cy="1361.2" r="6.2"/>
<circle cx="938.5" cy="1368.8" r="6.2"/>
<circle cx="946.0" cy="1373.8" r="6.2"/>
<circle cx="948.5" cy="1358.0" r="6.2"/>
<circle cx="944.8" cy="1384.5" r="6.2"/>
<circle cx="950.5" cy="1303.8" r="6.2"/>
<circle cx="953.0" cy="1238.0" r="6.2"/>
<circle cx="954.8" cy="1317.0" r="6.2"/>
<circle cx="956.5" cy="1294.5" r="6.2"/>
<circle cx="958.5" cy="1287.0" r="6.2"/>
<circle cx="959.8" cy="1329.5" r="6.2"/>
<circle cx="963.5" cy="1333.8" r="6.2"/>
<circle cx="967.2" cy="1331.2" r="6.2"/>
<circle cx="974.8" cy="1336.2" r="6.2"/>
<circle cx="964.2" cy="1394.5" r="6.2"/>
<circle cx="968.5" cy="1347.0" r="6.2"/>
<circle cx="970.5" cy="1316.2" r="6.2"/>
<circle cx="972.2" cy="1263.0" r="6.2"/>
<circle cx="976.0" cy="1303.8" r="6.2"/>
<circle cx="978.5" cy="1308.8" r="6.2"/>
<circle cx="981.0" cy="1358.8" r="6.2"/>
<circle cx="984.0" cy="1447.0" r="6.2"/>
<circle cx="986.0" cy="1397.5" r="6.2"/>
<circle cx="988.0" cy="1431.2" r="6.2"/>
<circle cx="989.8" cy="1347.0" r="6.2"/>
<circle cx="998.0" cy="1351.2" r="6.2"/>
<circle cx="991.8" cy="1334.2" r="6.2"/>
<circle cx="993.5" cy="1365.0" r="6.2"/>
<circle cx="1003.5" cy="1362.5" r="6.2"/>
<circle cx="996.0" cy="1385.0" r="6.2"/>
<circle cx="1002.2" cy="1381.2" r="6.2"/>
<circle cx="999.8" cy="1436.8" r="6.2"/>
<circle cx="1005.5" cy="1324.5" r="6.2"/>
<circle cx="1007.2" cy="1210.5" r="6.2"/>
<circle cx="1009.2" cy="1190.0" r="6.2"/>
<circle cx="691.2" cy="1457.0" r="6.2"/>
<circle cx="711.2" cy="1463.2" r="6.2"/>
<circle cx="689.5" cy="1490.8" r="6.2"/>
<circle cx="693.8" cy="1520.0" r="6.2"/>
<circle cx="697.5" cy="1535.0" r="6.2"/>
<circle cx="878.2" cy="1486.2" r="6.2"/>
<circle cx="626.8" cy="1512.8" r="6.2"/>
<circle cx="623.0" cy="1526.5" r="6.2"/>
<circle cx="634.5" cy="1545.2" r="6.2"/>
<circle cx="630.8" cy="1568.2" r="6.2"/>
<circle cx="632.5" cy="1590.0" r="6.2"/>
<circle cx="636.8" cy="1601.5" r="6.2"/>
<circle cx="638.8" cy="1632.0" r="6.2"/>
<circle cx="640.5" cy="1675.8" r="6.2"/>
<circle cx="642.5" cy="1680.0" r="6.2"/>
<circle cx="1017.5" cy="1303.0" r="6.2"/>
<circle cx="1015.0" cy="1315.5" r="6.2"/>
<circle cx="1016.0" cy="1386.2" r="6.2"/>
<circle cx="1019.2" cy="1328.8" r="6.2"/>
<circle cx="1023.0" cy="1336.2" r="6.2"/>
<circle cx="1021.2" cy="1359.2" r="6.2"/>
<circle cx="1025.0" cy="1225.0" r="6.2"/>
<circle cx="1027.2" cy="1382.5" r="6.2"/>
<circle cx="1029.2" cy="1321.2" r="6.2"/>
<circle cx="1031.0" cy="1267.0" r="6.2"/>
<circle cx="1033.0" cy="1192.5" r="6.2"/>
<circle cx="1035.0" cy="1203.2" r="6.2"/>
<circle cx="1036.8" cy="1236.2" r="6.2"/>
<circle cx="1038.8" cy="1301.8" r="6.2"/>
<circle cx="1041.0" cy="1378.8" r="6.2"/>
<circle cx="1043.0" cy="1407.0" r="6.2"/>
<circle cx="1044.8" cy="1276.2" r="6.2"/>
<circle cx="1048.0" cy="1338.0" r="6.2"/>
<circle cx="1046.8" cy="1346.2" r="6.2"/>
<circle cx="1051.8" cy="1345.0" r="6.2"/>
<circle cx="1053.0" cy="1357.5" r="6.2"/>
<circle cx="1058.0" cy="1362.5" r="6.2"/>
<circle cx="1056.0" cy="1358.8" r="6.2"/>
<circle cx="1060.5" cy="1200.8" r="6.2"/>
<circle cx="1062.5" cy="1206.2" r="6.2"/>
<circle cx="1064.2" cy="1292.0" r="6.2"/>
<circle cx="1068.5" cy="1300.5" r="6.2"/>
<circle cx="1066.2" cy="1396.2" r="6.2"/>
<circle cx="1070.5" cy="1379.5" r="6.2"/>
<circle cx="1078.5" cy="1375.0" r="6.2"/>
<circle cx="1072.2" cy="1247.5" r="6.2"/>
<circle cx="1074.2" cy="1225.8" r="6.2"/>
<circle cx="1076.2" cy="1342.5" r="6.2"/>
<circle cx="1080.0" cy="1308.0" r="6.2"/>
<circle cx="1090.0" cy="1308.0" r="6.2"/>
<circle cx="1081.8" cy="1355.0" r="6.2"/>
<circle cx="1088.0" cy="1352.0" r="6.2"/>
<circle cx="1098.0" cy="1357.0" r="6.2"/>
<circle cx="1100.0" cy="1363.8" r="6.2"/>
<circle cx="1084.2" cy="1330.0" r="6.2"/>
<circle cx="1086.0" cy="1397.5" r="6.2"/>
<circle cx="1091.8" cy="1381.2" r="6.2"/>
<circle cx="1094.2" cy="1278.2" r="6.2"/>
<circle cx="1103.0" cy="1288.8" r="6.2"/>
<circle cx="1107.5" cy="1272.0" r="6.2"/>
<circle cx="1111.8" cy="1281.2" r="6.2"/>
<circle cx="1117.5" cy="1292.0" r="6.2"/>
<circle cx="1105.5" cy="1310.0" r="6.2"/>
<circle cx="1109.8" cy="1315.0" r="6.2"/>
<circle cx="1113.5" cy="1245.0" r="6.2"/>
<circle cx="1115.5" cy="1239.5" r="6.2"/>
<circle cx="1119.2" cy="1258.8" r="6.2"/>
<circle cx="1121.0" cy="1324.5" r="6.2"/>
<circle cx="1128.0" cy="1325.0" r="6.2"/>
<circle cx="1133.0" cy="1328.8" r="6.2"/>
<circle cx="1139.2" cy="1327.0" r="6.2"/>
<circle cx="1141.8" cy="1323.8" r="6.2"/>
<circle cx="1123.0" cy="1303.8" r="6.2"/>
<circle cx="1127.5" cy="1296.2" r="6.2"/>
<circle cx="1135.0" cy="1306.2" r="6.2"/>
<circle cx="1130.5" cy="1313.8" r="6.2"/>
<circle cx="1138.0" cy="1313.8" r="6.2"/>
<circle cx="1143.0" cy="1415.0" r="6.2"/>
<circle cx="1145.0" cy="1433.2" r="6.2"/>
<circle cx="1146.8" cy="1362.5" r="6.2"/>
<circle cx="1148.8" cy="1377.0" r="6.2"/>
<circle cx="1150.5" cy="1258.8" r="6.2"/>
<circle cx="1161.0" cy="1254.5" r="6.2"/>
<circle cx="1153.0" cy="1225.5" r="6.2"/>
<circle cx="1158.8" cy="1236.8" r="6.2"/>
<circle cx="1154.8" cy="1273.8" r="6.2"/>
<circle cx="1165.5" cy="1277.5" r="6.2"/>
<circle cx="1174.2" cy="1275.0" r="6.2"/>
<circle cx="1170.5" cy="1286.2" r="6.2"/>
<circle cx="1156.8" cy="1323.8" r="6.2"/>
<circle cx="1162.5" cy="1177.5" r="6.2"/>
<circle cx="1166.8" cy="1304.5" r="6.2"/>
<circle cx="1173.0" cy="1299.5" r="6.2"/>
<circle cx="1178.5" cy="1300.0" r="6.2"/>
<circle cx="1176.2" cy="1329.5" r="6.2"/>
<circle cx="1180.5" cy="1315.5" r="6.2"/>
<circle cx="1182.2" cy="1255.0" r="6.2"/>
<circle cx="1184.2" cy="1218.8" r="6.2"/>
<circle cx="1192.5" cy="1220.0" r="6.2"/>
<circle cx="1200.0" cy="1228.8" r="6.2"/>
<circle cx="1194.2" cy="1218.8" r="6.2"/>
<circle cx="1186.2" cy="1189.5" r="6.2"/>
<circle cx="1188.0" cy="1207.5" r="6.2"/>
<circle cx="1196.0" cy="1292.0" r="6.2"/>
<circle cx="1198.0" cy="1164.2" r="6.2"/>
<circle cx="1202.2" cy="1196.8" r="6.2"/>
<circle cx="1203.8" cy="1273.8" r="6.2"/>
<circle cx="1205.5" cy="1242.5" r="6.2"/>
<circle cx="1208.0" cy="1303.8" r="6.2"/>
<circle cx="1213.8" cy="1310.0" r="6.2"/>
<circle cx="1210.0" cy="1376.2" r="6.2"/>
<circle cx="1215.5" cy="1370.0" r="6.2"/>
<circle cx="1211.8" cy="1330.8" r="6.2"/>
<circle cx="1219.5" cy="1257.0" r="6.2"/>
<circle cx="1294.2" cy="1270.0" r="6.2"/>
<circle cx="1296.2" cy="1227.5" r="6.2"/>
<circle cx="1301.8" cy="1227.5" r="6.2"/>
<circle cx="1306.0" cy="1236.2" r="6.2"/>
<circle cx="1298.0" cy="1241.2" r="6.2"/>
<circle cx="1302.2" cy="1285.0" r="6.2"/>
<circle cx="1304.2" cy="1262.5" r="6.2"/>
<circle cx="1308.0" cy="1341.8" r="6.2"/>
<circle cx="1319.8" cy="1343.8" r="6.2"/>
<circle cx="1310.0" cy="1310.8" r="6.2"/>
<circle cx="1317.5" cy="1320.0" r="6.2"/>
<circle cx="1311.8" cy="1252.5" r="6.2"/>
<circle cx="1313.8" cy="1425.5" r="6.2"/>
<circle cx="1315.5" cy="1362.0" r="6.2"/>
<circle cx="1320.5" cy="1295.0" r="6.2"/>
<circle cx="1327.5" cy="1289.5" r="6.2"/>
<circle cx="1325.5" cy="1304.5" r="6.2"/>
<circle cx="1323.0" cy="1248.0" r="6.2"/>
<circle cx="1329.2" cy="1240.5" r="6.2"/>
<circle cx="1331.8" cy="1269.5" r="6.2"/>
<circle cx="1339.2" cy="1269.5" r="6.2"/>
<circle cx="1333.5" cy="1280.0" r="6.2"/>
<circle cx="1335.5" cy="1253.8" r="6.2"/>
<circle cx="1341.0" cy="1246.2" r="6.2"/>
<circle cx="1351.0" cy="1242.0" r="6.2"/>
<circle cx="1337.2" cy="1295.0" r="6.2"/>
<circle cx="1346.8" cy="1292.0" r="6.2"/>
<circle cx="1343.5" cy="1226.2" r="6.2"/>
<circle cx="1345.5" cy="1223.8" r="6.2"/>
<circle cx="1349.2" cy="1263.8" r="6.2"/>
<circle cx="1356.8" cy="1271.2" r="6.2"/>
<circle cx="1354.8" cy="1320.8" r="6.2"/>
<circle cx="1364.8" cy="1320.0" r="6.2"/>
<circle cx="1360.5" cy="1287.5" r="6.2"/>
<circle cx="1359.2" cy="1295.0" r="6.2"/>
<circle cx="1366.8" cy="1297.0" r="6.2"/>
<circle cx="1363.0" cy="1259.5" r="6.2"/>
<circle cx="1370.5" cy="1268.8" r="6.2"/>
<circle cx="1374.2" cy="1270.0" r="6.2"/>
<circle cx="1373.0" cy="1280.0" r="6.2"/>
<circle cx="1370.5" cy="1283.8" r="6.2"/>
<circle cx="1376.8" cy="1238.2" r="6.2"/>
<circle cx="1378.8" cy="1180.5" r="6.2"/>
<circle cx="1380.5" cy="1292.0" r="6.2"/>
<circle cx="1388.0" cy="1295.0" r="6.2"/>
<circle cx="1395.5" cy="1297.5" r="6.2"/>
<circle cx="1383.0" cy="1306.2" r="6.2"/>
<circle cx="1399.2" cy="1300.0" r="6.2"/>
<circle cx="1386.8" cy="1249.2" r="6.2"/>
<circle cx="1390.5" cy="1228.0" r="6.2"/>
<circle cx="1392.5" cy="1277.5" r="6.2"/>
<circle cx="1395.5" cy="1331.2" r="6.2"/>
<circle cx="1400.5" cy="1317.5" r="6.2"/>
<circle cx="1401.8" cy="1308.8" r="6.2"/>
<circle cx="1410.0" cy="1278.2" r="6.2"/>
<circle cx="1407.5" cy="1291.2" r="6.2"/>
<circle cx="1408.8" cy="1347.5" r="6.2"/>
<circle cx="1413.8" cy="1438.8" r="6.2"/>
<circle cx="1412.0" cy="1364.5" r="6.2"/>
<circle cx="1416.2" cy="1376.2" r="6.2"/>
<circle cx="1418.0" cy="1309.2" r="6.2"/>
<circle cx="1419.5" cy="1326.2" r="6.2"/>
<circle cx="1427.5" cy="1318.8" r="6.2"/>
<circle cx="1423.0" cy="1344.5" r="6.2"/>
<circle cx="1425.8" cy="1362.0" r="6.2"/>
<circle cx="1435.5" cy="1357.0" r="6.2"/>
<circle cx="1429.2" cy="1293.0" r="6.2"/>
<circle cx="1431.2" cy="1302.5" r="6.2"/>
<circle cx="1433.8" cy="1227.5" r="6.2"/>
<circle cx="1437.0" cy="1323.0" r="6.2"/>
<circle cx="1441.2" cy="1285.0" r="6.2"/>
<circle cx="1445.5" cy="1293.8" r="6.2"/>
<circle cx="1442.5" cy="1308.8" r="6.2"/>
<circle cx="1447.5" cy="1312.5" r="6.2"/>
<circle cx="1455.0" cy="1307.5" r="6.2"/>
<circle cx="1462.0" cy="1308.2" r="6.2"/>
<circle cx="1450.0" cy="1237.5" r="6.2"/>
<circle cx="1453.2" cy="1253.8" r="6.2"/>
<circle cx="1457.0" cy="1222.5" r="6.2"/>
<circle cx="1458.8" cy="1358.8" r="6.2"/>
<circle cx="1463.8" cy="1355.0" r="6.2"/>
<circle cx="1465.0" cy="1273.2" r="6.2"/>
<circle cx="1467.0" cy="1288.2" r="6.2"/>
<circle cx="1468.8" cy="1346.2" r="6.2"/>
<circle cx="1470.5" cy="1323.8" r="6.2"/>
<circle cx="1475.0" cy="1332.5" r="6.2"/>
<circle cx="1476.8" cy="1308.8" r="6.2"/>
<circle cx="1478.8" cy="1278.8" r="6.2"/>
<circle cx="1481.2" cy="1282.5" r="6.2"/>
<circle cx="1483.8" cy="1279.5" r="6.2"/>
<circle cx="1486.2" cy="1331.2" r="6.2"/>
<circle cx="1488.2" cy="1386.8" r="6.2"/>
<circle cx="1490.5" cy="1303.8" r="6.2"/>
<circle cx="1492.5" cy="1373.0" r="6.2"/>
<circle cx="1493.8" cy="1352.5" r="6.2"/>
<circle cx="1502.0" cy="1347.0" r="6.2"/>
<circle cx="1496.2" cy="1146.2" r="6.2"/>
<circle cx="1498.2" cy="1283.8" r="6.2"/>
<circle cx="1500.2" cy="1405.0" r="6.2"/>
<circle cx="1504.2" cy="1374.5" r="6.2"/>
<circle cx="1506.2" cy="1360.5" r="6.2"/>
<circle cx="1508.0" cy="1302.0" r="6.2"/>
<circle cx="1510.0" cy="1228.0" r="6.2"/>
<circle cx="1516.2" cy="1228.8" r="6.2"/>
<circle cx="1512.0" cy="1216.2" r="6.2"/>
<circle cx="1513.8" cy="1275.5" r="6.2"/>
<circle cx="1518.0" cy="1253.0" r="6.2"/>
<circle cx="1520.5" cy="1263.0" r="6.2"/>
<circle cx="1523.8" cy="1271.2" r="6.2"/>
<circle cx="1521.2" cy="1280.0" r="6.2"/>
<circle cx="1531.2" cy="1286.2" r="6.2"/>
<circle cx="1525.8" cy="1332.5" r="6.2"/>
<circle cx="1528.5" cy="1315.5" r="6.2"/>
<circle cx="1533.8" cy="1346.8" r="6.2"/>
<circle cx="1535.5" cy="1258.2" r="6.2"/>
<circle cx="1537.5" cy="1271.2" r="6.2"/>
<circle cx="1540.0" cy="1284.5" r="6.2"/>
<circle cx="1543.8" cy="1295.0" r="6.2"/>
<circle cx="1547.5" cy="1286.2" r="6.2"/>
<circle cx="1545.0" cy="1289.5" r="6.2"/>
<circle cx="1549.2" cy="1358.8" r="6.2"/>
<circle cx="1552.5" cy="1273.0" r="6.2"/>
<circle cx="1555.0" cy="1217.0" r="6.2"/>
<circle cx="1557.5" cy="1227.0" r="6.2"/>
<circle cx="1561.2" cy="1235.8" r="6.2"/>
<circle cx="1559.2" cy="1336.2" r="6.2"/>
<circle cx="1565.0" cy="1312.0" r="6.2"/>
<circle cx="1567.0" cy="1298.8" r="6.2"/>
<circle cx="1568.8" cy="1410.0" r="6.2"/>
<circle cx="1570.5" cy="1372.5" r="6.2"/>
<circle cx="1577.5" cy="1368.8" r="6.2"/>
<circle cx="1586.2" cy="1372.5" r="6.2"/>
<circle cx="1590.0" cy="1384.5" r="6.2"/>
<circle cx="1582.5" cy="1375.5" r="6.2"/>
<circle cx="1572.5" cy="1208.2" r="6.2"/>
<circle cx="1575.0" cy="1323.0" r="6.2"/>
<circle cx="1578.8" cy="1422.5" r="6.2"/>
<circle cx="1582.5" cy="1303.8" r="6.2"/>
<circle cx="1588.2" cy="1330.5" r="6.2"/>
<circle cx="1595.0" cy="1321.2" r="6.2"/>
<circle cx="1593.8" cy="1328.8" r="6.2"/>
<circle cx="1605.0" cy="1323.8" r="6.2"/>
<circle cx="1606.2" cy="1333.8" r="6.2"/>
<circle cx="1608.0" cy="1343.8" r="6.2"/>
<circle cx="1596.2" cy="1300.8" r="6.2"/>
<circle cx="1598.2" cy="1209.5" r="6.2"/>
<circle cx="1600.5" cy="1273.8" r="6.2"/>
<circle cx="1602.5" cy="1352.5" r="6.2"/>
<circle cx="1612.0" cy="1413.0" r="6.2"/>
<circle cx="1610.0" cy="1422.0" r="6.2"/>
<circle cx="1616.2" cy="1429.5" r="6.2"/>
<circle cx="1613.8" cy="1387.0" r="6.2"/>
<circle cx="1620.0" cy="1388.0" r="6.2"/>
<circle cx="1622.0" cy="1375.5" r="6.2"/>
<circle cx="1623.8" cy="1380.0" r="6.2"/>
<circle cx="1617.5" cy="1352.0" r="6.2"/>
<circle cx="1625.0" cy="1346.2" r="6.2"/>
<circle cx="1633.0" cy="1343.8" r="6.2"/>
<circle cx="1630.0" cy="1355.0" r="6.2"/>
<circle cx="1637.5" cy="1356.2" r="6.2"/>
<circle cx="1627.5" cy="1326.8" r="6.2"/>
<circle cx="1631.8" cy="1301.2" r="6.2"/>
<circle cx="1639.5" cy="1388.2" r="6.2"/>
<circle cx="1641.2" cy="1291.2" r="6.2"/>
<circle cx="1646.2" cy="1286.2" r="6.2"/>
<circle cx="1649.5" cy="1369.2" r="6.2"/>
<circle cx="1651.2" cy="1251.8" r="6.2"/>
<circle cx="1667.0" cy="1251.8" r="6.2"/>
<circle cx="1653.0" cy="1307.0" r="6.2"/>
<circle cx="1655.0" cy="1330.8" r="6.2"/>
<circle cx="1657.5" cy="1262.5" r="6.2"/>
<circle cx="1659.5" cy="1343.8" r="6.2"/>
<circle cx="1661.2" cy="1348.8" r="6.2"/>
<circle cx="1665.0" cy="1291.2" r="6.2"/>
<circle cx="1663.8" cy="1306.2" r="6.2"/>
<circle cx="1672.5" cy="1301.2" r="6.2"/>
<circle cx="1668.8" cy="1315.0" r="6.2"/>
<circle cx="1670.8" cy="1277.0" r="6.2"/>
<circle cx="1676.2" cy="1324.5" r="6.2"/>
<circle cx="1675.0" cy="1331.2" r="6.2"/>
<circle cx="1682.5" cy="1335.0" r="6.2"/>
<circle cx="1678.8" cy="1341.2" r="6.2"/>
<circle cx="1688.8" cy="1345.0" r="6.2"/>
<circle cx="1680.8" cy="1366.2" r="6.2"/>
<circle cx="1684.5" cy="1383.0" r="6.2"/>
<circle cx="1692.5" cy="1376.2" r="6.2"/>
<circle cx="1698.8" cy="1379.5" r="6.2"/>
<circle cx="1702.5" cy="1375.0" r="6.2"/>
<circle cx="1686.8" cy="1411.2" r="6.2"/>
<circle cx="1690.8" cy="1426.2" r="6.2"/>
<circle cx="1695.5" cy="1326.2" r="6.2"/>
<circle cx="1704.2" cy="1303.0" r="6.2"/>
<circle cx="1705.8" cy="1339.5" r="6.2"/>
<circle cx="1714.5" cy="1340.0" r="6.2"/>
<circle cx="1708.2" cy="1270.0" r="6.2"/>
<circle cx="1710.5" cy="1251.2" r="6.2"/>
<circle cx="1712.0" cy="1312.5" r="6.2"/>
<circle cx="1717.5" cy="1309.5" r="6.2"/>
<circle cx="1716.2" cy="1280.5" r="6.2"/>
<circle cx="1722.5" cy="1286.2" r="6.2"/>
<circle cx="1730.0" cy="1285.0" r="6.2"/>
<circle cx="1733.8" cy="1288.8" r="6.2"/>
<circle cx="1720.0" cy="1396.8" r="6.2"/>
<circle cx="1725.0" cy="1343.8" r="6.2"/>
<circle cx="1727.5" cy="1350.0" r="6.2"/>
<circle cx="1723.8" cy="1353.8" r="6.2"/>
<circle cx="1731.8" cy="1328.0" r="6.2"/>
<circle cx="1736.2" cy="1312.0" r="6.2"/>
<circle cx="1741.2" cy="1306.2" r="6.2"/>
<circle cx="1738.8" cy="1273.8" r="6.2"/>
<circle cx="1743.8" cy="1267.5" r="6.2"/>
<circle cx="1750.0" cy="1283.0" r="6.2"/>
<circle cx="1745.5" cy="1293.0" r="6.2"/>
<circle cx="1747.5" cy="1317.0" r="6.2"/>
<circle cx="1751.2" cy="1353.8" r="6.2"/>
<circle cx="1753.2" cy="1215.0" r="6.2"/>
<circle cx="1755.5" cy="1221.2" r="6.2"/>
<circle cx="1757.5" cy="1321.2" r="6.2"/>
<circle cx="1762.5" cy="1315.0" r="6.2"/>
<circle cx="1765.0" cy="1306.2" r="6.2"/>
<circle cx="1767.5" cy="1264.5" r="6.2"/>
<circle cx="1770.5" cy="1257.0" r="6.2"/>
<circle cx="1769.5" cy="1233.8" r="6.2"/>
<circle cx="1773.0" cy="1290.0" r="6.2"/>
<circle cx="1775.0" cy="1444.5" r="6.2"/>
<circle cx="1777.0" cy="1418.8" r="6.2"/>
<circle cx="1778.8" cy="1343.8" r="6.2"/>
<circle cx="1780.8" cy="1278.2" r="6.2"/>
<circle cx="1783.0" cy="1328.0" r="6.2"/>
<circle cx="1785.0" cy="1087.5" r="6.2"/>
<circle cx="1786.8" cy="1177.5" r="6.2"/>
<circle cx="1788.8" cy="1257.5" r="6.2"/>
<circle cx="1790.8" cy="1388.8" r="6.2"/>
<circle cx="1793.8" cy="1289.5" r="6.2"/>
<circle cx="1798.8" cy="1162.2" r="6.2"/>
<circle cx="1802.5" cy="1200.2" r="6.2"/>
<circle cx="1828.5" cy="1225.0" r="6.2"/>
<circle cx="1829.8" cy="1227.5" r="6.2"/>
<circle cx="1849.5" cy="1246.2" r="6.2"/>
<circle cx="1807.2" cy="1259.8" r="6.2"/>
<circle cx="1816.0" cy="1264.1" r="6.2"/>
<circle cx="1804.1" cy="1266.6" r="6.2"/>
<circle cx="1826.0" cy="1257.9" r="6.2"/>
<circle cx="1847.9" cy="1261.2" r="6.2"/>
<circle cx="1796.6" cy="1289.1" r="6.2"/>
<circle cx="1799.8" cy="1293.5" r="6.2"/>
<circle cx="1808.5" cy="1294.8" r="6.2"/>
<circle cx="1814.8" cy="1286.0" r="6.2"/>
<circle cx="1822.2" cy="1283.5" r="6.2"/>
<circle cx="1818.5" cy="1296.0" r="6.2"/>
<circle cx="1824.1" cy="1301.6" r="6.2"/>
<circle cx="1832.2" cy="1286.0" r="6.2"/>
<circle cx="1838.5" cy="1283.5" r="6.2"/>
<circle cx="1846.0" cy="1278.5" r="6.2"/>
<circle cx="1852.0" cy="1278.2" r="6.2"/>
<circle cx="1843.8" cy="1316.9" r="6.2"/>
<circle cx="1834.1" cy="1330.8" r="6.2"/>
<circle cx="1840.4" cy="1351.0" r="6.2"/>
<circle cx="1842.0" cy="1353.5" r="6.2"/>
<circle cx="1217.5" cy="1467.8" r="6.2"/>
</g>
<rect x="226" y="1055" width="1658" height="638" fill="none" stroke="#000" stroke-width="6"/>
<path d="M252.3 1055V1045M252.3 1693V1703M299.4 1055V1036M299.4 1693V1712M346.5 1055V1045M346.5 1693V1703M393.6 1055V1045M393.6 1693V1703M440.7 1055V1036M440.7 1693V1712M487.8 1055V1045M487.8 1693V1703M534.9 1055V1045M534.9 1693V1703M581.9 1055V1036M581.9 1693V1712M629.0 1055V1045M629.0 1693V1703M676.1 1055V1045M676.1 1693V1703M723.2 1055V1036M723.2 1693V1712M770.3 1055V1045M770.3 1693V1703M817.4 1055V1045M817.4 1693V1703M864.5 1055V1036M864.5 1693V1712M911.6 1055V1045M911.6 1693V1703M958.7 1055V1045M958.7 1693V1703M1005.8 1055V1036M1005.8 1693V1712M1052.8 1055V1045M1052.8 1693V1703M1099.9 1055V1045M1099.9 1693V1703M1147.0 1055V1036M1147.0 1693V1712M1194.1 1055V1045M1194.1 1693V1703M1241.2 1055V1045M1241.2 1693V1703M1288.3 1055V1036M1288.3 1693V1712M1335.4 1055V1045M1335.4 1693V1703M1382.5 1055V1045M1382.5 1693V1703M1429.6 1055V1036M1429.6 1693V1712M1476.7 1055V1045M1476.7 1693V1703M1523.7 1055V1045M1523.7 1693V1703M1570.8 1055V1036M1570.8 1693V1712M1617.9 1055V1045M1617.9 1693V1703M1665.0 1055V1045M1665.0 1693V1703M1712.1 1055V1036M1712.1 1693V1712M1759.2 1055V1045M1759.2 1693V1703M1806.3 1055V1045M1806.3 1693V1703M1853.4 1055V1036M1853.4 1693V1712M207 1164.0H226M1884 1164.0H1903M207 1317.8H226M1884 1317.8H1903M207 1471.8H226M1884 1471.8H1903M207 1625.6H226M1884 1625.6H1903" stroke="#000" stroke-width="3" fill="none"/>
<text transform="translate(299.4 1758.9) scale(0.94 1)" font-size="45.3" font-weight="bold" text-anchor="middle">6</text>
<text transform="translate(440.7 1758.9) scale(0.94 1)" font-size="45.3" font-weight="bold" text-anchor="middle">12</text>
<text transform="translate(581.9 1758.9) scale(0.94 1)" font-size="45.3" font-weight="bold" text-anchor="middle">18</text>
<text transform="translate(723.2 1758.9) scale(0.94 1)" font-size="45.3" font-weight="bold" text-anchor="middle">24</text>
<text transform="translate(864.5 1758.9) scale(0.94 1)" font-size="45.3" font-weight="bold" text-anchor="middle">30</text>
<text transform="translate(1005.8 1758.9) scale(0.94 1)" font-size="45.3" font-weight="bold" text-anchor="middle">36</text>
<text transform="translate(1147.0 1758.9) scale(0.94 1)" font-size="45.3" font-weight="bold" text-anchor="middle">42</text>
<text transform="translate(1288.3 1758.9) scale(0.94 1)" font-size="45.3" font-weight="bold" text-anchor="middle">48</text>
<text transform="translate(1429.6 1758.9) scale(0.94 1)" font-size="45.3" font-weight="bold" text-anchor="middle">54</text>
<text transform="translate(1570.8 1758.9) scale(0.94 1)" font-size="45.3" font-weight="bold" text-anchor="middle">60</text>
<text transform="translate(1712.1 1758.9) scale(0.94 1)" font-size="45.3" font-weight="bold" text-anchor="middle">66</text>
<text transform="translate(1853.4 1758.9) scale(0.94 1)" font-size="45.3" font-weight="bold" text-anchor="middle">72</text>
<text transform="translate(189.5 1180.3) scale(0.94 1)" font-size="45.3" font-weight="bold" text-anchor="end">40</text>
<text transform="translate(189.5 1334.1) scale(0.94 1)" font-size="45.3" font-weight="bold" text-anchor="end">20</text>
<text transform="translate(189.5 1488.1) scale(0.94 1)" font-size="45.3" font-weight="bold" text-anchor="end">0</text>
<text transform="translate(189.5 1641.8999999999999) scale(0.94 1)" font-size="45.3" font-weight="bold" text-anchor="end">20</text>
<rect x="121.0" y="1629.7" width="21.2" height="5" fill="#000"/>
<text transform="translate(89.8 1374) rotate(-90) scale(0.955 1)" x="0" y="0" font-size="44.3" text-anchor="middle">North (mm)</text>
<g fill="#0000ff">
<circle cx="257.8" cy="2095.8" r="6.2"/>
<circle cx="261.5" cy="2217.8" r="6.2"/>
<circle cx="263.5" cy="2167.2" r="6.2"/>
<circle cx="265.2" cy="2150.8" r="6.2"/>
<circle cx="271.5" cy="2143.2" r="6.2"/>
<circle cx="267.8" cy="2080.2" r="6.2"/>
<circle cx="269.5" cy="2068.5" r="6.2"/>
<circle cx="273.5" cy="2202.0" r="6.2"/>
<circle cx="275.2" cy="2197.8" r="6.2"/>
<circle cx="283.5" cy="2193.5" r="6.2"/>
<circle cx="277.2" cy="2117.8" r="6.2"/>
<circle cx="279.5" cy="2159.5" r="6.2"/>
<circle cx="281.5" cy="2169.0" r="6.2"/>
<circle cx="286.5" cy="2179.0" r="6.2"/>
<circle cx="289.0" cy="2139.0" r="6.2"/>
<circle cx="291.0" cy="2246.5" r="6.2"/>
<circle cx="295.2" cy="2249.0" r="6.2"/>
<circle cx="299.0" cy="2205.2" r="6.2"/>
<circle cx="302.8" cy="2207.8" r="6.2"/>
<circle cx="305.2" cy="2101.0" r="6.2"/>
<circle cx="306.5" cy="2160.2" r="6.2"/>
<circle cx="310.8" cy="2157.8" r="6.2"/>
<circle cx="309.5" cy="2166.5" r="6.2"/>
<circle cx="314.0" cy="2175.2" r="6.2"/>
<circle cx="318.5" cy="2166.5" r="6.2"/>
<circle cx="322.8" cy="2177.2" r="6.2"/>
<circle cx="316.0" cy="2171.5" r="6.2"/>
<circle cx="314.5" cy="2222.8" r="6.2"/>
<circle cx="316.5" cy="2187.8" r="6.2"/>
<circle cx="321.0" cy="2240.8" r="6.2"/>
<circle cx="324.0" cy="2194.0" r="6.2"/>
<circle cx="331.0" cy="2196.0" r="6.2"/>
<circle cx="326.0" cy="2206.5" r="6.2"/>
<circle cx="334.0" cy="2211.5" r="6.2"/>
<circle cx="328.5" cy="2249.8" r="6.2"/>
<circle cx="332.2" cy="2227.2" r="6.2"/>
<circle cx="336.0" cy="2124.8" r="6.2"/>
<circle cx="341.5" cy="2116.0" r="6.2"/>
<circle cx="346.5" cy="2118.5" r="6.2"/>
<circle cx="339.0" cy="2172.0" r="6.2"/>
<circle cx="344.0" cy="2093.5" r="6.2"/>
<circle cx="347.8" cy="2145.2" r="6.2"/>
<circle cx="351.5" cy="2147.8" r="6.2"/>
<circle cx="352.0" cy="2190.2" r="6.2"/>
<circle cx="354.0" cy="2161.5" r="6.2"/>
<circle cx="356.0" cy="2167.8" r="6.2"/>
<circle cx="359.0" cy="2152.8" r="6.2"/>
<circle cx="359.8" cy="2123.2" r="6.2"/>
<circle cx="361.5" cy="2209.8" r="6.2"/>
<circle cx="366.5" cy="2209.0" r="6.2"/>
<circle cx="364.0" cy="2222.8" r="6.2"/>
<circle cx="367.8" cy="2150.2" r="6.2"/>
<circle cx="369.5" cy="2182.0" r="6.2"/>
<circle cx="371.5" cy="2192.0" r="6.2"/>
<circle cx="373.5" cy="2087.8" r="6.2"/>
<circle cx="375.2" cy="2169.0" r="6.2"/>
<circle cx="380.2" cy="2164.0" r="6.2"/>
<circle cx="378.5" cy="2147.0" r="6.2"/>
<circle cx="382.2" cy="2146.5" r="6.2"/>
<circle cx="382.8" cy="2110.2" r="6.2"/>
<circle cx="391.0" cy="2116.5" r="6.2"/>
<circle cx="385.2" cy="2076.5" r="6.2"/>
<circle cx="387.2" cy="2045.2" r="6.2"/>
<circle cx="389.0" cy="2101.0" r="6.2"/>
<circle cx="393.2" cy="2064.0" r="6.2"/>
<circle cx="395.2" cy="2022.8" r="6.2"/>
<circle cx="397.2" cy="2136.5" r="6.2"/>
<circle cx="399.0" cy="2046.0" r="6.2"/>
<circle cx="401.0" cy="2082.0" r="6.2"/>
<circle cx="403.2" cy="2125.2" r="6.2"/>
<circle cx="405.2" cy="2067.8" r="6.2"/>
<circle cx="409.0" cy="2072.8" r="6.2"/>
<circle cx="413.5" cy="2066.5" r="6.2"/>
<circle cx="407.0" cy="2034.0" r="6.2"/>
<circle cx="410.8" cy="2116.0" r="6.2"/>
<circle cx="414.8" cy="2097.2" r="6.2"/>
<circle cx="416.5" cy="2086.5" r="6.2"/>
<circle cx="418.5" cy="2144.5" r="6.2"/>
<circle cx="421.0" cy="2171.0" r="6.2"/>
<circle cx="422.8" cy="2166.5" r="6.2"/>
<circle cx="425.2" cy="2212.0" r="6.2"/>
<circle cx="426.5" cy="2215.2" r="6.2"/>
<circle cx="431.0" cy="2209.0" r="6.2"/>
<circle cx="428.5" cy="2078.2" r="6.2"/>
<circle cx="432.8" cy="2158.5" r="6.2"/>
<circle cx="434.5" cy="2181.5" r="6.2"/>
<circle cx="436.5" cy="2123.2" r="6.2"/>
<circle cx="446.0" cy="2124.0" r="6.2"/>
<circle cx="438.5" cy="2260.2" r="6.2"/>
<circle cx="440.2" cy="2254.5" r="6.2"/>
<circle cx="444.0" cy="2022.0" r="6.2"/>
<circle cx="448.2" cy="2160.2" r="6.2"/>
<circle cx="450.2" cy="2166.5" r="6.2"/>
<circle cx="452.2" cy="2061.5" r="6.2"/>
<circle cx="454.0" cy="2232.2" r="6.2"/>
<circle cx="456.0" cy="2044.0" r="6.2"/>
<circle cx="464.0" cy="2043.2" r="6.2"/>
<circle cx="457.8" cy="2107.0" r="6.2"/>
<circle cx="465.2" cy="2094.0" r="6.2"/>
<circle cx="466.5" cy="2102.8" r="6.2"/>
<circle cx="470.2" cy="2109.0" r="6.2"/>
<circle cx="475.2" cy="2112.8" r="6.2"/>
<circle cx="459.5" cy="2116.5" r="6.2"/>
<circle cx="472.8" cy="2154.2" r="6.2"/>
<circle cx="477.2" cy="2061.5" r="6.2"/>
<circle cx="480.2" cy="2058.5" r="6.2"/>
<circle cx="486.5" cy="2059.0" r="6.2"/>
<circle cx="485.2" cy="2065.2" r="6.2"/>
<circle cx="481.5" cy="2100.2" r="6.2"/>
<circle cx="483.5" cy="2123.2" r="6.2"/>
<circle cx="489.0" cy="2133.5" r="6.2"/>
<circle cx="491.0" cy="2081.0" r="6.2"/>
<circle cx="494.5" cy="2073.5" r="6.2"/>
<circle cx="499.5" cy="2074.8" r="6.2"/>
<circle cx="492.8" cy="2094.8" r="6.2"/>
<circle cx="497.0" cy="2045.2" r="6.2"/>
<circle cx="501.0" cy="2151.0" r="6.2"/>
<circle cx="512.8" cy="2152.0" r="6.2"/>
<circle cx="502.8" cy="2129.8" r="6.2"/>
<circle cx="511.0" cy="2129.0" r="6.2"/>
<circle cx="505.2" cy="2100.2" r="6.2"/>
<circle cx="507.0" cy="2091.5" r="6.2"/>
<circle cx="516.5" cy="2106.5" r="6.2"/>
<circle cx="521.0" cy="2110.2" r="6.2"/>
<circle cx="514.8" cy="2178.5" r="6.2"/>
<circle cx="519.0" cy="2049.0" r="6.2"/>
<circle cx="522.8" cy="2207.8" r="6.2"/>
<circle cx="528.5" cy="2082.0" r="6.2"/>
<circle cx="530.2" cy="2187.8" r="6.2"/>
<circle cx="537.0" cy="2186.0" r="6.2"/>
<circle cx="532.8" cy="2245.8" r="6.2"/>
<circle cx="534.0" cy="2116.0" r="6.2"/>
<circle cx="540.2" cy="2111.5" r="6.2"/>
<circle cx="546.0" cy="2113.5" r="6.2"/>
<circle cx="537.8" cy="2206.5" r="6.2"/>
<circle cx="542.8" cy="2210.2" r="6.2"/>
<circle cx="546.5" cy="2201.5" r="6.2"/>
<circle cx="548.5" cy="2014.5" r="6.2"/>
<circle cx="550.2" cy="2123.5" r="6.2"/>
<circle cx="552.0" cy="2070.2" r="6.2"/>
<circle cx="554.0" cy="1994.8" r="6.2"/>
<circle cx="292.8" cy="2276.5" r="6.2"/>
<circle cx="297.8" cy="2274.0" r="6.2"/>
<circle cx="526.5" cy="2283.5" r="6.2"/>
<circle cx="524.8" cy="2311.5" r="6.2"/>
<circle cx="442.2" cy="2369.2" r="6.2"/>
<circle cx="624.8" cy="2121.5" r="6.2"/>
<circle cx="633.0" cy="2122.2" r="6.2"/>
<circle cx="623.5" cy="2144.0" r="6.2"/>
<circle cx="634.8" cy="2142.0" r="6.2"/>
<circle cx="638.5" cy="2143.5" r="6.2"/>
<circle cx="627.2" cy="2152.8" r="6.2"/>
<circle cx="631.0" cy="2161.5" r="6.2"/>
<circle cx="629.0" cy="2209.8" r="6.2"/>
<circle cx="640.5" cy="2103.5" r="6.2"/>
<circle cx="642.5" cy="2047.8" r="6.2"/>
<circle cx="689.8" cy="2245.8" r="6.2"/>
<circle cx="691.5" cy="2027.8" r="6.2"/>
<circle cx="693.5" cy="2187.2" r="6.2"/>
<circle cx="695.5" cy="2217.8" r="6.2"/>
<circle cx="699.2" cy="2204.5" r="6.2"/>
<circle cx="701.0" cy="2147.8" r="6.2"/>
<circle cx="703.5" cy="2157.8" r="6.2"/>
<circle cx="705.5" cy="2225.8" r="6.2"/>
<circle cx="723.0" cy="2132.0" r="6.2"/>
<circle cx="727.2" cy="2141.5" r="6.2"/>
<circle cx="724.8" cy="2147.2" r="6.2"/>
<circle cx="729.0" cy="2187.2" r="6.2"/>
<circle cx="731.0" cy="2204.0" r="6.2"/>
<circle cx="741.0" cy="2199.0" r="6.2"/>
<circle cx="743.5" cy="2201.0" r="6.2"/>
<circle cx="732.8" cy="2087.8" r="6.2"/>
<circle cx="734.8" cy="2176.5" r="6.2"/>
<circle cx="736.8" cy="2221.5" r="6.2"/>
<circle cx="744.8" cy="2115.2" r="6.2"/>
<circle cx="748.0" cy="2141.0" r="6.2"/>
<circle cx="752.2" cy="2146.5" r="6.2"/>
<circle cx="746.0" cy="2157.2" r="6.2"/>
<circle cx="754.8" cy="2155.2" r="6.2"/>
<circle cx="750.2" cy="2101.0" r="6.2"/>
<circle cx="757.2" cy="2115.2" r="6.2"/>
<circle cx="762.2" cy="2111.0" r="6.2"/>
<circle cx="758.5" cy="2134.0" r="6.2"/>
<circle cx="761.0" cy="2131.5" r="6.2"/>
<circle cx="764.0" cy="2064.5" r="6.2"/>
<circle cx="768.5" cy="2074.0" r="6.2"/>
<circle cx="772.2" cy="2084.0" r="6.2"/>
<circle cx="765.5" cy="2074.0" r="6.2"/>
<circle cx="768.0" cy="2154.8" r="6.2"/>
<circle cx="773.5" cy="2134.0" r="6.2"/>
<circle cx="776.0" cy="2131.0" r="6.2"/>
<circle cx="778.0" cy="1997.0" r="6.2"/>
<circle cx="787.2" cy="2000.2" r="6.2"/>
<circle cx="791.8" cy="2000.2" r="6.2"/>
<circle cx="780.0" cy="1963.5" r="6.2"/>
<circle cx="781.8" cy="2037.0" r="6.2"/>
<circle cx="789.8" cy="2036.0" r="6.2"/>
<circle cx="783.5" cy="2255.2" r="6.2"/>
<circle cx="786.0" cy="2096.0" r="6.2"/>
<circle cx="793.0" cy="2090.2" r="6.2"/>
<circle cx="802.2" cy="2092.8" r="6.2"/>
<circle cx="803.5" cy="2088.5" r="6.2"/>
<circle cx="795.5" cy="2078.5" r="6.2"/>
<circle cx="797.8" cy="2058.2" r="6.2"/>
<circle cx="799.8" cy="2067.0" r="6.2"/>
<circle cx="805.5" cy="2245.8" r="6.2"/>
<circle cx="807.2" cy="2162.8" r="6.2"/>
<circle cx="809.8" cy="2157.0" r="6.2"/>
<circle cx="811.8" cy="2152.2" r="6.2"/>
<circle cx="813.0" cy="2113.2" r="6.2"/>
<circle cx="815.5" cy="2196.5" r="6.2"/>
<circle cx="819.8" cy="2194.0" r="6.2"/>
<circle cx="817.2" cy="2175.2" r="6.2"/>
<circle cx="821.0" cy="2138.2" r="6.2"/>
<circle cx="823.5" cy="2097.0" r="6.2"/>
<circle cx="827.2" cy="2105.2" r="6.2"/>
<circle cx="831.0" cy="2094.5" r="6.2"/>
<circle cx="833.0" cy="2087.0" r="6.2"/>
<circle cx="824.8" cy="2117.8" r="6.2"/>
<circle cx="829.2" cy="2126.0" r="6.2"/>
<circle cx="835.2" cy="2119.0" r="6.2"/>
<circle cx="842.2" cy="2124.0" r="6.2"/>
<circle cx="847.2" cy="2122.8" r="6.2"/>
<circle cx="853.5" cy="2126.0" r="6.2"/>
<circle cx="836.5" cy="2069.0" r="6.2"/>
<circle cx="839.0" cy="2072.0" r="6.2"/>
<circle cx="840.5" cy="2137.8" r="6.2"/>
<circle cx="850.5" cy="2137.8" r="6.2"/>
<circle cx="846.5" cy="2177.2" r="6.2"/>
<circle cx="852.2" cy="2112.0" r="6.2"/>
<circle cx="860.5" cy="2105.2" r="6.2"/>
<circle cx="856.0" cy="2206.0" r="6.2"/>
<circle cx="858.5" cy="2149.8" r="6.2"/>
<circle cx="862.2" cy="2092.8" r="6.2"/>
<circle cx="867.2" cy="2092.8" r="6.2"/>
<circle cx="864.0" cy="2132.0" r="6.2"/>
<circle cx="868.5" cy="2061.5" r="6.2"/>
<circle cx="870.2" cy="2041.0" r="6.2"/>
<circle cx="872.2" cy="2121.5" r="6.2"/>
<circle cx="874.0" cy="2139.0" r="6.2"/>
<circle cx="876.0" cy="2247.2" r="6.2"/>
<circle cx="878.0" cy="2216.5" r="6.2"/>
<circle cx="882.2" cy="2176.0" r="6.2"/>
<circle cx="886.0" cy="2178.5" r="6.2"/>
<circle cx="888.0" cy="2166.5" r="6.2"/>
<circle cx="889.8" cy="2157.8" r="6.2"/>
<circle cx="883.5" cy="2227.2" r="6.2"/>
<circle cx="891.8" cy="2207.8" r="6.2"/>
<circle cx="896.0" cy="2206.0" r="6.2"/>
<circle cx="893.5" cy="2241.0" r="6.2"/>
<circle cx="899.0" cy="2235.2" r="6.2"/>
<circle cx="903.5" cy="2245.2" r="6.2"/>
<circle cx="897.2" cy="2246.0" r="6.2"/>
<circle cx="905.5" cy="2161.0" r="6.2"/>
<circle cx="907.2" cy="2141.0" r="6.2"/>
<circle cx="909.8" cy="2224.5" r="6.2"/>
<circle cx="915.5" cy="2224.0" r="6.2"/>
<circle cx="911.5" cy="2202.8" r="6.2"/>
<circle cx="913.5" cy="2173.5" r="6.2"/>
<circle cx="917.2" cy="2132.8" r="6.2"/>
<circle cx="919.8" cy="2135.2" r="6.2"/>
<circle cx="921.5" cy="2092.0" r="6.2"/>
<circle cx="923.0" cy="2057.0" r="6.2"/>
<circle cx="924.8" cy="2046.0" r="6.2"/>
<circle cx="927.2" cy="2070.2" r="6.2"/>
<circle cx="929.8" cy="2073.5" r="6.2"/>
<circle cx="931.0" cy="2129.5" r="6.2"/>
<circle cx="933.0" cy="2155.2" r="6.2"/>
<circle cx="934.8" cy="2142.0" r="6.2"/>
<circle cx="939.8" cy="2141.5" r="6.2"/>
<circle cx="937.2" cy="2177.0" r="6.2"/>
<circle cx="941.0" cy="2106.0" r="6.2"/>
<circle cx="946.0" cy="2103.5" r="6.2"/>
<circle cx="944.8" cy="2091.5" r="6.2"/>
<circle cx="949.8" cy="2094.0" r="6.2"/>
<circle cx="943.0" cy="2121.0" r="6.2"/>
<circle cx="950.5" cy="2078.5" r="6.2"/>
<circle cx="953.0" cy="2029.0" r="6.2"/>
<circle cx="956.0" cy="2022.8" r="6.2"/>
<circle cx="954.8" cy="2114.0" r="6.2"/>
<circle cx="961.0" cy="2115.2" r="6.2"/>
<circle cx="958.5" cy="2100.2" r="6.2"/>
<circle cx="963.5" cy="2099.0" r="6.2"/>
<circle cx="964.2" cy="2062.8" r="6.2"/>
<circle cx="968.5" cy="2073.5" r="6.2"/>
<circle cx="966.0" cy="2152.2" r="6.2"/>
<circle cx="969.8" cy="2086.5" r="6.2"/>
<circle cx="980.2" cy="2086.0" r="6.2"/>
<circle cx="972.2" cy="2107.8" r="6.2"/>
<circle cx="974.8" cy="2116.5" r="6.2"/>
<circle cx="976.0" cy="2125.2" r="6.2"/>
<circle cx="978.5" cy="2132.0" r="6.2"/>
<circle cx="982.2" cy="2167.0" r="6.2"/>
<circle cx="984.0" cy="2194.8" r="6.2"/>
<circle cx="986.0" cy="2182.0" r="6.2"/>
<circle cx="988.5" cy="2177.8" r="6.2"/>
<circle cx="993.5" cy="2164.5" r="6.2"/>
<circle cx="996.0" cy="2173.5" r="6.2"/>
<circle cx="989.8" cy="2137.2" r="6.2"/>
<circle cx="991.8" cy="2115.2" r="6.2"/>
<circle cx="997.8" cy="2261.0" r="6.2"/>
<circle cx="1005.5" cy="2151.0" r="6.2"/>
<circle cx="1007.2" cy="2060.2" r="6.2"/>
<circle cx="1011.0" cy="2066.5" r="6.2"/>
<circle cx="1008.5" cy="1883.5" r="6.2"/>
<circle cx="1010.5" cy="1991.0" r="6.2"/>
<circle cx="707.2" cy="2266.5" r="6.2"/>
<circle cx="711.5" cy="2271.0" r="6.2"/>
<circle cx="738.5" cy="2283.5" r="6.2"/>
<circle cx="697.2" cy="2298.5" r="6.2"/>
<circle cx="709.0" cy="2304.8" r="6.2"/>
<circle cx="901.5" cy="2268.0" r="6.2"/>
<circle cx="880.2" cy="2323.5" r="6.2"/>
<circle cx="1003.5" cy="2296.0" r="6.2"/>
<circle cx="999.8" cy="2319.2" r="6.2"/>
<circle cx="1001.8" cy="2370.5" r="6.2"/>
<circle cx="719.2" cy="2368.0" r="6.2"/>
<circle cx="713.5" cy="2392.2" r="6.2"/>
<circle cx="716.8" cy="2423.0" r="6.2"/>
<circle cx="715.2" cy="2431.0" r="6.2"/>
<circle cx="721.0" cy="2496.0" r="6.2"/>
<circle cx="1015.5" cy="2184.8" r="6.2"/>
<circle cx="1025.0" cy="2180.2" r="6.2"/>
<circle cx="1016.8" cy="2147.8" r="6.2"/>
<circle cx="1021.2" cy="2207.8" r="6.2"/>
<circle cx="1018.0" cy="2137.8" r="6.2"/>
<circle cx="1023.0" cy="2131.5" r="6.2"/>
<circle cx="1030.5" cy="2130.2" r="6.2"/>
<circle cx="1036.8" cy="2131.5" r="6.2"/>
<circle cx="1026.8" cy="2140.2" r="6.2"/>
<circle cx="1036.8" cy="2143.5" r="6.2"/>
<circle cx="1045.0" cy="2151.0" r="6.2"/>
<circle cx="1029.2" cy="2155.2" r="6.2"/>
<circle cx="1033.0" cy="2112.8" r="6.2"/>
<circle cx="1038.8" cy="2090.2" r="6.2"/>
<circle cx="1041.0" cy="2184.8" r="6.2"/>
<circle cx="1043.0" cy="2161.0" r="6.2"/>
<circle cx="1046.8" cy="2130.2" r="6.2"/>
<circle cx="1050.5" cy="2139.0" r="6.2"/>
<circle cx="1058.5" cy="2133.2" r="6.2"/>
<circle cx="1048.0" cy="2209.0" r="6.2"/>
<circle cx="1054.2" cy="2207.8" r="6.2"/>
<circle cx="1052.5" cy="2191.0" r="6.2"/>
<circle cx="1056.8" cy="2160.2" r="6.2"/>
<circle cx="1060.5" cy="2074.0" r="6.2"/>
<circle cx="1064.2" cy="2077.0" r="6.2"/>
<circle cx="1074.2" cy="2075.2" r="6.2"/>
<circle cx="1064.8" cy="2055.2" r="6.2"/>
<circle cx="1066.2" cy="2208.5" r="6.2"/>
<circle cx="1070.5" cy="2144.0" r="6.2"/>
<circle cx="1072.2" cy="2111.5" r="6.2"/>
<circle cx="1076.0" cy="2162.8" r="6.2"/>
<circle cx="1078.0" cy="2181.5" r="6.2"/>
<circle cx="1080.0" cy="2134.0" r="6.2"/>
<circle cx="1090.0" cy="2129.5" r="6.2"/>
<circle cx="1083.0" cy="2147.0" r="6.2"/>
<circle cx="1086.2" cy="2159.0" r="6.2"/>
<circle cx="1088.0" cy="2245.2" r="6.2"/>
<circle cx="1094.2" cy="2214.0" r="6.2"/>
<circle cx="1096.0" cy="2168.5" r="6.2"/>
<circle cx="1103.8" cy="2249.8" r="6.2"/>
<circle cx="1105.5" cy="2131.5" r="6.2"/>
<circle cx="1106.8" cy="2184.0" r="6.2"/>
<circle cx="1115.5" cy="2184.0" r="6.2"/>
<circle cx="1123.0" cy="2188.5" r="6.2"/>
<circle cx="1133.5" cy="2192.0" r="6.2"/>
<circle cx="1136.8" cy="2199.0" r="6.2"/>
<circle cx="1109.8" cy="2172.2" r="6.2"/>
<circle cx="1111.8" cy="2204.5" r="6.2"/>
<circle cx="1117.5" cy="2101.0" r="6.2"/>
<circle cx="1119.2" cy="2134.5" r="6.2"/>
<circle cx="1125.5" cy="2143.5" r="6.2"/>
<circle cx="1121.2" cy="2119.0" r="6.2"/>
<circle cx="1126.8" cy="2166.5" r="6.2"/>
<circle cx="1129.2" cy="2159.0" r="6.2"/>
<circle cx="1131.0" cy="2125.2" r="6.2"/>
<circle cx="1138.8" cy="2120.2" r="6.2"/>
<circle cx="1135.5" cy="2177.2" r="6.2"/>
<circle cx="1141.0" cy="2219.0" r="6.2"/>
<circle cx="1146.8" cy="2236.5" r="6.2"/>
<circle cx="1148.8" cy="2261.5" r="6.2"/>
<circle cx="1150.5" cy="2139.0" r="6.2"/>
<circle cx="1156.8" cy="2144.0" r="6.2"/>
<circle cx="1153.0" cy="2114.0" r="6.2"/>
<circle cx="1158.8" cy="2183.5" r="6.2"/>
<circle cx="1160.5" cy="2161.0" r="6.2"/>
<circle cx="1164.2" cy="2152.2" r="6.2"/>
<circle cx="1162.5" cy="2235.2" r="6.2"/>
<circle cx="1166.5" cy="2130.8" r="6.2"/>
<circle cx="1168.5" cy="2202.2" r="6.2"/>
<circle cx="1172.5" cy="2215.2" r="6.2"/>
<circle cx="1172.5" cy="2221.5" r="6.2"/>
<circle cx="1179.2" cy="2236.0" r="6.2"/>
<circle cx="1184.2" cy="2227.8" r="6.2"/>
<circle cx="1190.5" cy="2237.8" r="6.2"/>
<circle cx="1194.2" cy="2231.5" r="6.2"/>
<circle cx="1188.0" cy="2126.0" r="6.2"/>
<circle cx="1199.2" cy="2216.0" r="6.2"/>
<circle cx="1202.5" cy="2206.5" r="6.2"/>
<circle cx="1209.8" cy="2219.0" r="6.2"/>
<circle cx="1207.5" cy="2160.8" r="6.2"/>
<circle cx="1219.2" cy="2229.5" r="6.2"/>
<circle cx="1294.2" cy="2097.8" r="6.2"/>
<circle cx="1298.0" cy="2091.0" r="6.2"/>
<circle cx="1296.0" cy="2027.0" r="6.2"/>
<circle cx="1299.2" cy="2071.0" r="6.2"/>
<circle cx="1305.5" cy="2066.5" r="6.2"/>
<circle cx="1310.0" cy="2059.0" r="6.2"/>
<circle cx="1313.0" cy="2066.5" r="6.2"/>
<circle cx="1306.0" cy="2074.5" r="6.2"/>
<circle cx="1301.8" cy="2151.5" r="6.2"/>
<circle cx="1313.8" cy="2082.2" r="6.2"/>
<circle cx="1315.5" cy="2178.5" r="6.2"/>
<circle cx="1317.5" cy="2196.5" r="6.2"/>
<circle cx="1319.2" cy="2142.2" r="6.2"/>
<circle cx="1325.5" cy="2146.0" r="6.2"/>
<circle cx="1330.0" cy="2140.2" r="6.2"/>
<circle cx="1321.8" cy="2220.2" r="6.2"/>
<circle cx="1323.5" cy="2036.5" r="6.2"/>
<circle cx="1327.5" cy="2059.0" r="6.2"/>
<circle cx="1331.0" cy="2070.2" r="6.2"/>
<circle cx="1341.2" cy="2070.2" r="6.2"/>
<circle cx="1334.5" cy="2125.2" r="6.2"/>
<circle cx="1337.5" cy="2046.5" r="6.2"/>
<circle cx="1339.2" cy="2057.2" r="6.2"/>
<circle cx="1343.0" cy="2005.2" r="6.2"/>
<circle cx="1345.0" cy="1982.0" r="6.2"/>
<circle cx="1347.2" cy="2123.5" r="6.2"/>
<circle cx="1348.8" cy="2148.5" r="6.2"/>
<circle cx="1355.0" cy="2141.0" r="6.2"/>
<circle cx="1350.5" cy="2101.0" r="6.2"/>
<circle cx="1360.5" cy="2094.5" r="6.2"/>
<circle cx="1358.8" cy="2112.0" r="6.2"/>
<circle cx="1363.0" cy="2071.0" r="6.2"/>
<circle cx="1364.2" cy="2222.8" r="6.2"/>
<circle cx="1371.8" cy="2231.0" r="6.2"/>
<circle cx="1366.8" cy="2124.8" r="6.2"/>
<circle cx="1374.8" cy="2136.5" r="6.2"/>
<circle cx="1376.8" cy="2114.5" r="6.2"/>
<circle cx="1388.0" cy="2116.0" r="6.2"/>
<circle cx="1378.5" cy="2159.0" r="6.2"/>
<circle cx="1385.5" cy="2156.0" r="6.2"/>
<circle cx="1390.5" cy="2158.5" r="6.2"/>
<circle cx="1385.5" cy="2166.0" r="6.2"/>
<circle cx="1395.5" cy="2171.5" r="6.2"/>
<circle cx="1393.0" cy="2173.5" r="6.2"/>
<circle cx="1380.0" cy="2197.2" r="6.2"/>
<circle cx="1391.8" cy="2185.2" r="6.2"/>
<circle cx="1398.0" cy="2191.0" r="6.2"/>
<circle cx="1400.5" cy="2196.5" r="6.2"/>
<circle cx="1176.8" cy="2267.2" r="6.2"/>
<circle cx="1188.0" cy="2268.5" r="6.2"/>
<circle cx="1195.5" cy="2271.0" r="6.2"/>
<circle cx="1186.0" cy="2275.5" r="6.2"/>
<circle cx="1212.5" cy="2266.0" r="6.2"/>
<circle cx="1368.5" cy="2270.5" r="6.2"/>
<circle cx="1091.8" cy="2286.0" r="6.2"/>
<circle cx="1099.8" cy="2280.2" r="6.2"/>
<circle cx="1113.8" cy="2276.5" r="6.2"/>
<circle cx="1101.8" cy="2324.8" r="6.2"/>
<circle cx="1143.0" cy="2314.8" r="6.2"/>
<circle cx="1145.0" cy="2352.8" r="6.2"/>
<circle cx="1176.2" cy="2331.0" r="6.2"/>
<circle cx="1205.5" cy="2306.0" r="6.2"/>
<circle cx="1215.5" cy="2296.0" r="6.2"/>
<circle cx="1217.5" cy="2307.2" r="6.2"/>
<circle cx="1098.0" cy="2404.0" r="6.2"/>
<circle cx="1406.2" cy="2124.0" r="6.2"/>
<circle cx="1410.0" cy="2204.0" r="6.2"/>
<circle cx="1416.2" cy="2201.5" r="6.2"/>
<circle cx="1417.5" cy="2213.5" r="6.2"/>
<circle cx="1410.0" cy="2232.8" r="6.2"/>
<circle cx="1415.0" cy="2232.8" r="6.2"/>
<circle cx="1408.8" cy="2241.5" r="6.2"/>
<circle cx="1420.0" cy="2138.2" r="6.2"/>
<circle cx="1421.8" cy="2160.8" r="6.2"/>
<circle cx="1423.8" cy="2110.2" r="6.2"/>
<circle cx="1425.8" cy="2254.0" r="6.2"/>
<circle cx="1427.5" cy="2220.2" r="6.2"/>
<circle cx="1431.2" cy="2226.5" r="6.2"/>
<circle cx="1436.2" cy="2225.2" r="6.2"/>
<circle cx="1429.5" cy="2200.2" r="6.2"/>
<circle cx="1433.8" cy="2134.5" r="6.2"/>
<circle cx="1437.5" cy="2116.5" r="6.2"/>
<circle cx="1439.5" cy="2161.5" r="6.2"/>
<circle cx="1441.2" cy="2148.5" r="6.2"/>
<circle cx="1443.2" cy="2217.2" r="6.2"/>
<circle cx="1447.0" cy="2198.5" r="6.2"/>
<circle cx="1452.5" cy="2201.0" r="6.2"/>
<circle cx="1457.0" cy="2206.5" r="6.2"/>
<circle cx="1451.2" cy="2095.2" r="6.2"/>
<circle cx="1453.2" cy="2120.8" r="6.2"/>
<circle cx="1463.0" cy="2123.5" r="6.2"/>
<circle cx="1470.5" cy="2131.5" r="6.2"/>
<circle cx="1468.8" cy="2142.8" r="6.2"/>
<circle cx="1458.8" cy="2165.2" r="6.2"/>
<circle cx="1461.2" cy="2189.5" r="6.2"/>
<circle cx="1465.0" cy="2179.5" r="6.2"/>
<circle cx="1467.0" cy="2175.2" r="6.2"/>
<circle cx="1473.8" cy="2161.5" r="6.2"/>
<circle cx="1480.0" cy="2156.5" r="6.2"/>
<circle cx="1485.0" cy="2162.8" r="6.2"/>
<circle cx="1478.8" cy="2167.8" r="6.2"/>
<circle cx="1476.8" cy="2209.0" r="6.2"/>
<circle cx="1482.5" cy="2107.2" r="6.2"/>
<circle cx="1486.2" cy="2192.2" r="6.2"/>
<circle cx="1490.0" cy="2213.5" r="6.2"/>
<circle cx="1488.8" cy="2224.0" r="6.2"/>
<circle cx="1495.0" cy="2220.2" r="6.2"/>
<circle cx="1494.5" cy="2227.2" r="6.2"/>
<circle cx="1498.0" cy="2185.2" r="6.2"/>
<circle cx="1506.2" cy="2182.0" r="6.2"/>
<circle cx="1508.0" cy="2217.0" r="6.2"/>
<circle cx="1511.2" cy="2156.0" r="6.2"/>
<circle cx="1513.8" cy="2136.5" r="6.2"/>
<circle cx="1517.5" cy="2177.2" r="6.2"/>
<circle cx="1520.0" cy="2166.0" r="6.2"/>
<circle cx="1522.5" cy="2186.5" r="6.2"/>
<circle cx="1527.5" cy="2194.0" r="6.2"/>
<circle cx="1535.0" cy="2194.0" r="6.2"/>
<circle cx="1537.5" cy="2180.2" r="6.2"/>
<circle cx="1545.0" cy="2184.0" r="6.2"/>
<circle cx="1556.2" cy="2177.8" r="6.2"/>
<circle cx="1541.2" cy="2190.2" r="6.2"/>
<circle cx="1523.8" cy="2098.2" r="6.2"/>
<circle cx="1525.5" cy="2219.8" r="6.2"/>
<circle cx="1532.5" cy="2216.5" r="6.2"/>
<circle cx="1533.8" cy="2207.8" r="6.2"/>
<circle cx="1529.5" cy="2137.0" r="6.2"/>
<circle cx="1539.2" cy="2124.0" r="6.2"/>
<circle cx="1543.2" cy="2154.5" r="6.2"/>
<circle cx="1545.5" cy="2166.5" r="6.2"/>
<circle cx="1549.2" cy="2197.2" r="6.2"/>
<circle cx="1551.2" cy="2111.5" r="6.2"/>
<circle cx="1553.2" cy="2134.0" r="6.2"/>
<circle cx="1558.8" cy="2263.5" r="6.2"/>
<circle cx="1561.0" cy="2212.8" r="6.2"/>
<circle cx="1565.0" cy="2169.0" r="6.2"/>
<circle cx="1567.0" cy="2113.2" r="6.2"/>
<circle cx="1568.8" cy="2202.0" r="6.2"/>
<circle cx="1571.2" cy="2207.8" r="6.2"/>
<circle cx="1572.5" cy="1949.5" r="6.2"/>
<circle cx="1575.0" cy="2064.8" r="6.2"/>
<circle cx="1577.0" cy="2106.0" r="6.2"/>
<circle cx="1583.8" cy="2109.0" r="6.2"/>
<circle cx="1587.5" cy="2115.2" r="6.2"/>
<circle cx="1593.0" cy="2113.5" r="6.2"/>
<circle cx="1578.8" cy="2144.0" r="6.2"/>
<circle cx="1580.5" cy="2136.0" r="6.2"/>
<circle cx="1588.8" cy="2152.0" r="6.2"/>
<circle cx="1594.5" cy="2151.0" r="6.2"/>
<circle cx="1590.5" cy="2129.0" r="6.2"/>
<circle cx="1596.2" cy="2086.5" r="6.2"/>
<circle cx="1602.0" cy="2075.2" r="6.2"/>
<circle cx="1606.2" cy="2086.0" r="6.2"/>
<circle cx="1598.2" cy="2037.0" r="6.2"/>
<circle cx="1604.2" cy="2060.8" r="6.2"/>
<circle cx="1608.2" cy="2022.0" r="6.2"/>
<circle cx="1610.0" cy="2116.0" r="6.2"/>
<circle cx="1613.8" cy="2106.5" r="6.2"/>
<circle cx="1620.0" cy="2106.5" r="6.2"/>
<circle cx="1612.0" cy="2136.5" r="6.2"/>
<circle cx="1617.0" cy="2144.0" r="6.2"/>
<circle cx="1622.0" cy="2149.0" r="6.2"/>
<circle cx="1618.0" cy="2160.2" r="6.2"/>
<circle cx="1623.8" cy="2190.8" r="6.2"/>
<circle cx="1625.8" cy="2085.2" r="6.2"/>
<circle cx="1627.5" cy="2016.5" r="6.2"/>
<circle cx="1632.0" cy="2016.5" r="6.2"/>
<circle cx="1633.8" cy="2041.0" r="6.2"/>
<circle cx="1642.0" cy="2046.0" r="6.2"/>
<circle cx="1635.0" cy="2067.0" r="6.2"/>
<circle cx="1639.5" cy="2060.2" r="6.2"/>
<circle cx="1643.8" cy="2066.5" r="6.2"/>
<circle cx="1647.5" cy="2073.5" r="6.2"/>
<circle cx="1637.5" cy="2129.0" r="6.2"/>
<circle cx="1649.5" cy="2144.8" r="6.2"/>
<circle cx="1653.2" cy="2052.8" r="6.2"/>
<circle cx="1655.0" cy="2206.5" r="6.2"/>
<circle cx="1657.5" cy="2093.5" r="6.2"/>
<circle cx="1651.2" cy="2102.8" r="6.2"/>
<circle cx="1661.2" cy="2106.5" r="6.2"/>
<circle cx="1658.8" cy="2117.2" r="6.2"/>
<circle cx="1667.5" cy="2121.0" r="6.2"/>
<circle cx="1662.5" cy="2134.8" r="6.2"/>
<circle cx="1665.0" cy="2131.5" r="6.2"/>
<circle cx="1669.2" cy="2142.8" r="6.2"/>
<circle cx="1671.2" cy="2160.2" r="6.2"/>
<circle cx="1672.5" cy="2212.8" r="6.2"/>
<circle cx="1676.2" cy="2219.0" r="6.2"/>
<circle cx="1682.5" cy="2221.5" r="6.2"/>
<circle cx="1675.0" cy="2226.5" r="6.2"/>
<circle cx="1680.0" cy="2236.5" r="6.2"/>
<circle cx="1687.5" cy="2234.0" r="6.2"/>
<circle cx="1690.0" cy="2230.2" r="6.2"/>
<circle cx="1686.2" cy="2197.0" r="6.2"/>
<circle cx="1694.5" cy="2249.0" r="6.2"/>
<circle cx="1696.2" cy="2213.5" r="6.2"/>
<circle cx="1699.5" cy="2210.2" r="6.2"/>
<circle cx="1708.2" cy="2204.0" r="6.2"/>
<circle cx="1710.5" cy="2213.2" r="6.2"/>
<circle cx="1706.2" cy="2226.5" r="6.2"/>
<circle cx="1703.8" cy="2234.0" r="6.2"/>
<circle cx="1714.2" cy="2177.8" r="6.2"/>
<circle cx="1718.8" cy="2169.0" r="6.2"/>
<circle cx="1725.0" cy="2161.5" r="6.2"/>
<circle cx="1732.5" cy="2160.2" r="6.2"/>
<circle cx="1716.2" cy="2188.2" r="6.2"/>
<circle cx="1718.2" cy="2223.2" r="6.2"/>
<circle cx="1722.0" cy="2087.8" r="6.2"/>
<circle cx="1724.2" cy="2117.8" r="6.2"/>
<circle cx="1728.0" cy="2142.8" r="6.2"/>
<circle cx="1730.0" cy="2174.5" r="6.2"/>
<circle cx="1733.8" cy="2241.0" r="6.2"/>
<circle cx="1735.5" cy="2249.0" r="6.2"/>
<circle cx="1737.5" cy="2045.2" r="6.2"/>
<circle cx="1741.2" cy="2102.8" r="6.2"/>
<circle cx="1743.8" cy="2091.5" r="6.2"/>
<circle cx="1755.0" cy="2099.0" r="6.2"/>
<circle cx="1765.0" cy="2092.0" r="6.2"/>
<circle cx="1747.5" cy="2058.5" r="6.2"/>
<circle cx="1757.5" cy="2062.8" r="6.2"/>
<circle cx="1759.5" cy="2059.5" r="6.2"/>
<circle cx="1751.2" cy="1956.5" r="6.2"/>
<circle cx="1753.2" cy="2141.5" r="6.2"/>
<circle cx="1761.2" cy="2117.0" r="6.2"/>
<circle cx="1763.0" cy="2126.5" r="6.2"/>
<circle cx="1767.5" cy="2103.5" r="6.2"/>
<circle cx="1771.2" cy="2110.2" r="6.2"/>
<circle cx="1769.2" cy="2164.8" r="6.2"/>
<circle cx="1773.2" cy="2177.2" r="6.2"/>
<circle cx="1775.0" cy="2227.0" r="6.2"/>
<circle cx="1777.5" cy="2237.8" r="6.2"/>
<circle cx="1783.0" cy="2244.0" r="6.2"/>
<circle cx="1778.8" cy="2127.2" r="6.2"/>
<circle cx="1780.8" cy="2203.5" r="6.2"/>
<circle cx="1785.0" cy="2106.0" r="6.2"/>
<circle cx="1786.8" cy="2159.0" r="6.2"/>
<circle cx="1788.8" cy="2219.0" r="6.2"/>
<circle cx="1792.0" cy="2255.2" r="6.2"/>
<circle cx="1793.8" cy="2198.5" r="6.2"/>
<circle cx="1492.5" cy="2266.8" r="6.2"/>
<circle cx="1501.2" cy="2267.2" r="6.2"/>
<circle cx="1749.5" cy="2266.0" r="6.2"/>
<circle cx="1445.0" cy="2321.5" r="6.2"/>
<circle cx="1502.5" cy="2300.5" r="6.2"/>
<circle cx="1505.0" cy="2297.2" r="6.2"/>
<circle cx="1563.0" cy="2355.2" r="6.2"/>
<circle cx="1678.8" cy="2274.2" r="6.2"/>
<circle cx="1692.5" cy="2283.5" r="6.2"/>
<circle cx="1700.5" cy="2289.8" r="6.2"/>
<circle cx="1712.0" cy="2287.8" r="6.2"/>
<circle cx="1684.5" cy="2307.8" r="6.2"/>
<circle cx="1790.8" cy="2274.2" r="6.2"/>
<circle cx="1816.4" cy="2070.6" r="6.2"/>
<circle cx="1836.0" cy="2086.6" r="6.2"/>
<circle cx="1798.8" cy="2114.6" r="6.2"/>
<circle cx="1828.1" cy="2110.2" r="6.2"/>
<circle cx="1830.0" cy="2118.5" r="6.2"/>
<circle cx="1811.6" cy="2128.5" r="6.2"/>
<circle cx="1820.4" cy="2125.0" r="6.2"/>
<circle cx="1824.8" cy="2126.9" r="6.2"/>
<circle cx="1809.8" cy="2137.5" r="6.2"/>
<circle cx="1817.9" cy="2143.1" r="6.2"/>
<circle cx="1826.2" cy="2151.0" r="6.2"/>
<circle cx="1832.2" cy="2136.0" r="6.2"/>
<circle cx="1849.5" cy="2139.8" r="6.2"/>
<circle cx="1796.6" cy="2148.1" r="6.2"/>
<circle cx="1806.6" cy="2168.5" r="6.2"/>
<circle cx="1802.9" cy="2173.8" r="6.2"/>
<circle cx="1804.5" cy="2176.9" r="6.2"/>
<circle cx="1837.9" cy="2169.4" r="6.2"/>
<circle cx="1843.5" cy="2171.2" r="6.2"/>
<circle cx="1848.5" cy="2164.4" r="6.2"/>
<circle cx="1852.0" cy="2162.5" r="6.2"/>
<circle cx="1808.5" cy="2191.9" r="6.2"/>
<circle cx="1834.1" cy="2189.4" r="6.2"/>
<circle cx="1839.8" cy="2206.2" r="6.2"/>
<circle cx="1845.8" cy="2205.0" r="6.2"/>
<circle cx="1841.6" cy="2249.4" r="6.2"/>
</g>
<rect x="226" y="1871" width="1658" height="638" fill="none" stroke="#000" stroke-width="6"/>
<path d="M252.3 1871V1861M252.3 2509V2519M299.4 1871V1852M299.4 2509V2528M346.5 1871V1861M346.5 2509V2519M393.6 1871V1861M393.6 2509V2519M440.7 1871V1852M440.7 2509V2528M487.8 1871V1861M487.8 2509V2519M534.9 1871V1861M534.9 2509V2519M581.9 1871V1852M581.9 2509V2528M629.0 1871V1861M629.0 2509V2519M676.1 1871V1861M676.1 2509V2519M723.2 1871V1852M723.2 2509V2528M770.3 1871V1861M770.3 2509V2519M817.4 1871V1861M817.4 2509V2519M864.5 1871V1852M864.5 2509V2528M911.6 1871V1861M911.6 2509V2519M958.7 1871V1861M958.7 2509V2519M1005.8 1871V1852M1005.8 2509V2528M1052.8 1871V1861M1052.8 2509V2519M1099.9 1871V1861M1099.9 2509V2519M1147.0 1871V1852M1147.0 2509V2528M1194.1 1871V1861M1194.1 2509V2519M1241.2 1871V1861M1241.2 2509V2519M1288.3 1871V1852M1288.3 2509V2528M1335.4 1871V1861M1335.4 2509V2519M1382.5 1871V1861M1382.5 2509V2519M1429.6 1871V1852M1429.6 2509V2528M1476.7 1871V1861M1476.7 2509V2519M1523.7 1871V1861M1523.7 2509V2519M1570.8 1871V1852M1570.8 2509V2528M1617.9 1871V1861M1617.9 2509V2519M1665.0 1871V1861M1665.0 2509V2519M1712.1 1871V1852M1712.1 2509V2528M1759.2 1871V1861M1759.2 2509V2519M1806.3 1871V1861M1806.3 2509V2519M1853.4 1871V1852M1853.4 2509V2528M207 1871.9H226M1884 1871.9H1903M207 1983.6H226M1884 1983.6H1903M207 2095.4H226M1884 2095.4H1903M207 2207.1H226M1884 2207.1H1903M207 2318.8H226M1884 2318.8H1903M207 2430.5H226M1884 2430.5H1903" stroke="#000" stroke-width="3" fill="none"/>
<text transform="translate(299.4 2574.9) scale(0.94 1)" font-size="45.3" font-weight="bold" text-anchor="middle">6</text>
<text transform="translate(440.7 2574.9) scale(0.94 1)" font-size="45.3" font-weight="bold" text-anchor="middle">12</text>
<text transform="translate(581.9 2574.9) scale(0.94 1)" font-size="45.3" font-weight="bold" text-anchor="middle">18</text>
<text transform="translate(723.2 2574.9) scale(0.94 1)" font-size="45.3" font-weight="bold" text-anchor="middle">24</text>
<text transform="translate(864.5 2574.9) scale(0.94 1)" font-size="45.3" font-weight="bold" text-anchor="middle">30</text>
<text transform="translate(1005.8 2574.9) scale(0.94 1)" font-size="45.3" font-weight="bold" text-anchor="middle">36</text>
<text transform="translate(1147.0 2574.9) scale(0.94 1)" font-size="45.3" font-weight="bold" text-anchor="middle">42</text>
<text transform="translate(1288.3 2574.9) scale(0.94 1)" font-size="45.3" font-weight="bold" text-anchor="middle">48</text>
<text transform="translate(1429.6 2574.9) scale(0.94 1)" font-size="45.3" font-weight="bold" text-anchor="middle">54</text>
<text transform="translate(1570.8 2574.9) scale(0.94 1)" font-size="45.3" font-weight="bold" text-anchor="middle">60</text>
<text transform="translate(1712.1 2574.9) scale(0.94 1)" font-size="45.3" font-weight="bold" text-anchor="middle">66</text>
<text transform="translate(1853.4 2574.9) scale(0.94 1)" font-size="45.3" font-weight="bold" text-anchor="middle">72</text>
<text transform="translate(189.5 1888.2) scale(0.94 1)" font-size="45.3" font-weight="bold" text-anchor="end">60</text>
<text transform="translate(189.5 1999.8999999999999) scale(0.94 1)" font-size="45.3" font-weight="bold" text-anchor="end">30</text>
<text transform="translate(189.5 2111.7000000000003) scale(0.94 1)" font-size="45.3" font-weight="bold" text-anchor="end">0</text>
<text transform="translate(189.5 2223.4) scale(0.94 1)" font-size="45.3" font-weight="bold" text-anchor="end">30</text>
<rect x="121.0" y="2211.2" width="21.2" height="5" fill="#000"/>
<text transform="translate(189.5 2335.1000000000004) scale(0.94 1)" font-size="45.3" font-weight="bold" text-anchor="end">60</text>
<rect x="121.0" y="2322.9" width="21.2" height="5" fill="#000"/>
<text transform="translate(189.5 2446.8) scale(0.94 1)" font-size="45.3" font-weight="bold" text-anchor="end">90</text>
<rect x="121.0" y="2434.6" width="21.2" height="5" fill="#000"/>
<text transform="translate(89.8 2190) rotate(-90) scale(0.955 1)" x="0" y="0" font-size="44.3" text-anchor="middle">Up (mm)</text>
<text transform="translate(1054 2634) scale(0.978 1)" font-size="43.5" text-anchor="middle">Time (hours since beginning of first day UTC)</text>
<rect x="226" y="2738" width="1658" height="153" fill="none" stroke="#000" stroke-width="6"/>
<text x="1055" y="2777" font-size="42.7" font-weight="bold" text-anchor="middle">Processed Using JPL Rapid Orbits</text>
<text x="1055" y="2817.5" font-size="42.7" font-weight="bold" text-anchor="middle">by the Nevada Geodetic Laboratory.</text>
<text x="1055" y="2858" font-size="42.7" font-weight="bold" text-anchor="middle">Plotted on 2026-Jan-11.</text>
</svg></body></html>
